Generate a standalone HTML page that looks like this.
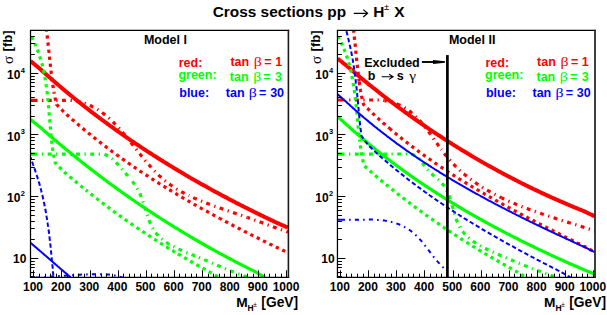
<!DOCTYPE html>
<html><head><meta charset="utf-8"><style>
html,body{margin:0;padding:0;background:#fff;width:607px;height:315px;overflow:hidden}
svg{position:absolute;left:0;top:0;display:block}
</style></head><body>
<svg width="607" height="315" viewBox="0 0 607 315">
<defs>
<clipPath id="cL"><rect x="30.5" y="30.5" width="257.5" height="246.8"/></clipPath>
<clipPath id="cR"><rect x="337.6" y="30.5" width="257.2" height="246.8"/></clipPath>
</defs>
<rect width="607" height="315" fill="#fff"/>
<path d="M30.5,61.0 L31.3,61.6 L32.0,62.3 L32.8,62.9 L33.6,63.6 L34.4,64.2 L35.1,64.8 L35.9,65.5 L36.7,66.1 L37.5,66.8 L38.2,67.4 L39.0,68.0 L39.8,68.7 L40.5,69.3 L41.3,70.0 L42.0,70.7 L42.8,71.4 L43.5,72.0 L44.3,72.7 L45.0,73.4 L45.7,74.0 L46.5,74.7 L47.2,75.4 L48.0,76.0 L48.7,76.7 L49.5,77.4 L50.3,78.0 L51.0,78.7 L51.8,79.4 L52.5,80.0 L53.3,80.7 L54.0,81.3 L54.8,82.0 L55.6,82.7 L56.3,83.3 L57.1,84.0 L57.8,84.6 L58.6,85.3 L59.4,85.9 L60.1,86.6 L60.9,87.2 L61.7,87.9 L62.4,88.5 L63.2,89.2 L64.0,89.8 L64.7,90.4 L65.5,91.1 L66.3,91.7 L67.0,92.4 L67.8,93.0 L68.6,93.7 L69.4,94.3 L70.1,94.9 L70.9,95.6 L71.7,96.2 L72.5,96.8 L73.2,97.5 L74.0,98.1 L74.8,98.7 L75.6,99.4 L76.4,100.0 L77.1,100.6 L77.9,101.2 L78.7,101.9 L79.5,102.5 L80.3,103.1 L81.1,103.7 L81.8,104.4 L82.6,105.0 L83.4,105.6 L84.2,106.2 L85.0,106.9 L85.8,107.5 L86.6,108.1 L87.4,108.7 L88.2,109.3 L89.0,109.9 L89.7,110.5 L90.5,111.2 L91.3,111.8 L92.1,112.4 L92.9,113.0 L93.7,113.6 L94.5,114.2 L95.3,114.8 L96.1,115.4 L96.9,116.0 L97.7,116.6 L98.5,117.2 L99.3,117.8 L100.1,118.4 L100.9,119.0 L101.7,119.6 L102.5,120.2 L103.4,120.8 L104.2,121.4 L105.0,122.0 L105.8,122.6 L106.6,123.2 L107.4,123.8 L108.2,124.4 L109.0,125.0 L109.8,125.6 L110.6,126.1 L111.5,126.7 L112.3,127.3 L113.1,127.9 L113.9,128.5 L114.7,129.1 L115.5,129.7 L116.3,130.2 L117.2,130.8 L118.0,131.4 L118.8,132.0 L119.6,132.6 L120.4,133.1 L121.3,133.7 L122.1,134.3 L122.9,134.9 L123.7,135.4 L124.6,136.0 L125.4,136.6 L126.2,137.1 L127.0,137.7 L127.9,138.3 L128.7,138.9 L129.5,139.4 L130.3,140.0 L131.2,140.6 L132.0,141.1 L132.8,141.7 L133.7,142.2 L134.5,142.8 L135.3,143.4 L136.2,143.9 L137.0,144.5 L137.8,145.0 L138.7,145.6 L139.5,146.2 L140.3,146.7 L141.2,147.3 L142.0,147.8 L142.8,148.4 L143.7,148.9 L144.5,149.5 L145.4,150.0 L146.2,150.6 L147.0,151.1 L147.9,151.7 L148.7,152.2 L149.6,152.8 L150.4,153.3 L151.2,153.8 L152.1,154.4 L152.9,154.9 L153.8,155.5 L154.6,156.0 L155.5,156.5 L156.3,157.1 L157.2,157.6 L158.0,158.2 L158.9,158.7 L159.7,159.2 L160.6,159.8 L161.4,160.3 L162.3,160.8 L163.1,161.4 L164.0,161.9 L164.8,162.4 L165.7,162.9 L166.5,163.5 L167.4,164.0 L168.2,164.5 L169.1,165.1 L169.9,165.6 L170.8,166.1 L171.7,166.6 L172.5,167.1 L173.4,167.7 L174.2,168.2 L175.1,168.7 L176.0,169.2 L176.8,169.7 L177.7,170.3 L178.5,170.8 L179.4,171.3 L180.3,171.8 L181.1,172.3 L182.0,172.8 L182.8,173.3 L183.7,173.8 L184.6,174.4 L185.4,174.9 L186.3,175.4 L187.2,175.9 L188.0,176.4 L188.9,176.9 L189.8,177.4 L190.6,177.9 L191.5,178.4 L192.4,178.9 L193.3,179.4 L194.1,179.9 L195.0,180.4 L195.9,180.9 L196.7,181.4 L197.6,181.9 L198.5,182.4 L199.4,182.9 L200.2,183.4 L201.1,183.9 L202.0,184.4 L202.9,184.9 L203.7,185.3 L204.6,185.8 L205.5,186.3 L206.4,186.8 L207.2,187.3 L208.1,187.8 L209.0,188.3 L209.9,188.8 L210.8,189.2 L211.6,189.7 L212.5,190.2 L213.4,190.7 L214.3,191.2 L215.2,191.7 L216.0,192.1 L216.9,192.6 L217.8,193.1 L218.7,193.6 L219.6,194.0 L220.5,194.5 L221.3,195.0 L222.2,195.5 L223.1,195.9 L224.0,196.4 L224.9,196.9 L225.8,197.3 L226.7,197.8 L227.5,198.3 L228.4,198.8 L229.3,199.2 L230.2,199.7 L231.1,200.2 L232.0,200.6 L232.9,201.1 L233.8,201.5 L234.7,202.0 L235.6,202.5 L236.4,202.9 L237.3,203.4 L238.2,203.8 L239.1,204.3 L240.0,204.8 L240.9,205.2 L241.8,205.7 L242.7,206.1 L243.6,206.6 L244.5,207.0 L245.4,207.5 L246.3,207.9 L247.2,208.4 L248.1,208.8 L249.0,209.3 L249.9,209.7 L250.8,210.2 L251.7,210.6 L252.6,211.1 L253.5,211.5 L254.4,212.0 L255.3,212.4 L256.2,212.9 L257.1,213.3 L258.0,213.7 L258.9,214.2 L259.8,214.6 L260.7,215.1 L261.6,215.5 L262.5,215.9 L263.4,216.4 L264.3,216.8 L265.2,217.3 L266.1,217.7 L267.0,218.1 L267.9,218.6 L268.8,219.0 L269.7,219.4 L270.6,219.9 L271.5,220.3 L272.4,220.7 L273.3,221.1 L274.2,221.6 L275.1,222.0 L276.0,222.4 L276.9,222.8 L277.9,223.2 L278.8,223.6 L279.7,224.0 L280.6,224.4 L281.5,224.8 L282.5,225.2 L283.4,225.6 L284.3,226.0 L285.2,226.4 L286.2,226.8 L287.1,227.2 L288.0,227.6" stroke="#ff0000" stroke-width="4" fill="none" clip-path="url(#cL)"/>
<path d="M46.3,29.0 L46.4,30.0 L46.6,31.0 L46.7,32.0 L46.8,33.0 L46.9,34.0 L47.0,35.1 L47.2,36.1 L47.3,37.1 L47.4,38.1 L47.5,39.1 L47.6,40.1 L47.7,41.1 L47.8,42.1 L47.9,43.1 L48.1,44.1 L48.2,45.2 L48.3,46.2 L48.4,47.2 L48.5,48.2 L48.6,49.2 L48.7,50.2 L48.9,51.2 L49.0,52.2 L49.1,53.2 L49.2,54.3 L49.3,55.3 L49.4,56.3 L49.5,57.3 L49.6,58.3 L49.7,59.3 L49.8,60.3 L50.0,61.3 L50.1,62.4 L50.2,63.4 L50.3,64.4 L50.4,65.4 L50.5,66.4 L50.6,67.4 L50.7,68.4 L50.9,69.4 L51.0,70.4 L51.1,71.4 L51.2,72.5 L51.3,73.5 L51.5,74.5 L51.6,75.5 L51.7,76.5 L51.8,77.5 L52.0,78.5 L52.1,79.5 L52.2,80.5 L52.4,81.5 L52.5,82.5 L52.6,83.5 L52.8,84.5 L52.9,85.6 L53.1,86.6 L53.2,87.6 L53.4,88.6 L53.5,89.6 L53.7,90.6 L53.9,91.6 L54.0,92.6" stroke="#ff0000" stroke-width="3.2" fill="none" stroke-dasharray="3.3 3.8" stroke-dashoffset="0.62" clip-path="url(#cL)"/>
<path d="M54.0,92.6 L54.2,93.6 L54.4,94.6 L54.6,95.6 L54.8,96.6 L55.0,97.6 L55.2,98.5 L55.4,99.5 L55.6,100.5 L55.8,101.5 L56.0,102.5 L56.3,103.5 L56.5,104.5 L57.2,105.2 L57.9,105.9 L58.6,106.6 L59.3,107.4 L60.0,108.1 L60.7,108.8 L61.4,109.5 L62.1,110.2 L62.8,110.9 L63.6,111.6 L64.3,112.3 L65.0,113.0 L65.7,113.7 L66.5,114.3 L67.2,115.0 L68.0,115.7 L68.7,116.3 L69.5,117.0 L70.2,117.7 L71.0,118.3 L71.7,119.0 L72.5,119.7 L73.2,120.3 L74.0,121.0 L74.8,121.7 L75.5,122.3 L76.3,123.0 L77.0,123.6 L77.8,124.3 L78.6,124.9 L79.3,125.6 L80.1,126.2 L80.9,126.9 L81.6,127.5 L82.4,128.2 L83.2,128.8 L83.9,129.5 L84.7,130.1 L85.5,130.7 L86.3,131.4 L87.0,132.0 L87.8,132.6 L88.6,133.3 L89.4,133.9 L90.2,134.5 L90.9,135.2 L91.7,135.8 L92.5,136.4 L93.3,137.1 L94.1,137.7 L94.9,138.3 L95.6,138.9 L96.4,139.5 L97.2,140.2 L98.0,140.8 L98.8,141.4 L99.6,142.0 L100.4,142.6 L101.2,143.2 L102.0,143.9 L102.8,144.5 L103.6,145.1 L104.4,145.7 L105.2,146.3 L106.0,146.9 L106.8,147.5 L107.6,148.1 L108.4,148.7 L109.2,149.3 L110.0,149.9 L110.8,150.5 L111.6,151.1 L112.4,151.7 L113.2,152.3 L114.0,152.9 L114.8,153.5 L115.6,154.1 L116.4,154.7 L117.2,155.2" stroke="#ff0000" stroke-width="3.2" fill="none" stroke-dasharray="3.3 3.8" stroke-dashoffset="2.13" clip-path="url(#cL)"/>
<path d="M117.2,155.2 L118.1,155.8 L118.9,156.4 L119.7,157.0 L120.5,157.6 L121.3,158.2 L122.1,158.8 L123.0,159.3 L123.8,159.9 L124.6,160.5 L125.4,161.1 L126.2,161.6 L127.1,162.2 L127.9,162.8 L128.7,163.4 L129.5,163.9 L130.4,164.5 L131.2,165.1 L132.0,165.6 L132.8,166.2 L133.7,166.8 L134.5,167.3 L135.3,167.9 L136.2,168.5 L137.0,169.0 L137.8,169.6 L138.7,170.1 L139.5,170.7 L140.3,171.3 L141.2,171.8 L142.0,172.4 L142.8,172.9 L143.7,173.5 L144.5,174.0 L145.3,174.6 L146.2,175.1 L147.0,175.7 L147.9,176.2 L148.7,176.8 L149.6,177.3 L150.4,177.9 L151.2,178.4 L152.1,179.0 L152.9,179.5 L153.8,180.0 L154.6,180.6 L155.5,181.1 L156.3,181.6 L157.2,182.2 L158.0,182.7 L158.9,183.3 L159.7,183.8 L160.6,184.3 L161.4,184.9 L162.3,185.4 L163.1,185.9 L164.0,186.4 L164.8,187.0 L165.7,187.5 L166.6,188.0 L167.4,188.5" stroke="#ff0000" stroke-width="3.2" fill="none" stroke-dasharray="3.3 3.8" stroke-dashoffset="1.03" clip-path="url(#cL)"/>
<path d="M167.4,188.5 L168.3,189.1 L169.1,189.6 L170.0,190.1 L170.8,190.6 L171.7,191.2 L172.6,191.7 L173.4,192.2 L174.3,192.7 L175.1,193.2 L176.0,193.7 L176.9,194.3 L177.7,194.8 L178.6,195.3 L179.5,195.8 L180.3,196.3 L181.2,196.8 L182.1,197.3 L182.9,197.8 L183.8,198.3 L184.7,198.8 L185.5,199.4 L186.4,199.9 L187.3,200.4 L188.1,200.9 L189.0,201.4 L189.9,201.9 L190.8,202.4 L191.6,202.9 L192.5,203.4 L193.4,203.9 L194.2,204.4 L195.1,204.9 L196.0,205.4 L196.9,205.9 L197.7,206.3 L198.6,206.8 L199.5,207.3 L200.4,207.8 L201.3,208.3 L202.1,208.8 L203.0,209.3 L203.9,209.8 L204.8,210.3 L205.6,210.8 L206.5,211.2 L207.4,211.7 L208.3,212.2 L209.2,212.7 L210.1,213.2 L210.9,213.7 L211.8,214.1 L212.7,214.6 L213.6,215.1 L214.5,215.6 L215.4,216.1 L216.2,216.5 L217.1,217.0 L218.0,217.5 L218.9,218.0 L219.8,218.4" stroke="#ff0000" stroke-width="3.2" fill="none" stroke-dasharray="3.3 3.8" stroke-dashoffset="4.92" clip-path="url(#cL)"/>
<path d="M219.8,218.4 L220.7,218.9 L221.6,219.4 L222.4,219.9 L223.3,220.3 L224.2,220.8 L225.1,221.3 L226.0,221.8 L226.9,222.2 L227.8,222.7 L228.7,223.2 L229.5,223.6 L230.4,224.1 L231.3,224.6 L232.2,225.0 L233.1,225.5 L234.0,226.0 L234.9,226.4 L235.8,226.9 L236.7,227.3 L237.6,227.8 L238.5,228.3 L239.4,228.7 L240.2,229.2 L241.1,229.7 L242.0,230.1 L242.9,230.6 L243.8,231.0 L244.7,231.5 L245.6,231.9 L246.5,232.4 L247.4,232.9 L248.3,233.3 L249.2,233.8 L250.1,234.2 L251.0,234.7 L251.9,235.1 L252.8,235.6 L253.7,236.0 L254.6,236.5 L255.5,236.9 L256.4,237.4 L257.3,237.8 L258.2,238.3 L259.1,238.7 L260.0,239.2 L260.9,239.6 L261.7,240.1 L262.6,240.5 L263.5,241.0 L264.4,241.4 L265.3,241.8 L266.2,242.3 L267.1,242.7 L268.0,243.2 L268.9,243.6 L269.8,244.1 L270.7,244.5 L271.6,244.9 L272.5,245.4 L273.4,245.8 L274.3,246.3 L275.2,246.7 L276.1,247.1 L277.0,247.6 L278.0,248.0 L278.9,248.4 L279.8,248.8 L280.7,249.3 L281.6,249.7 L282.5,250.1 L283.4,250.5 L284.3,250.9 L285.3,251.3 L286.2,251.8 L287.1,252.2 L288.0,252.6" stroke="#ff0000" stroke-width="3.2" fill="none" stroke-dasharray="3.3 3.8" stroke-dashoffset="0.98" clip-path="url(#cL)"/>
<path d="M30.5,100.3 L31.5,100.3 L32.5,100.3 L33.5,100.3 L34.6,100.3 L35.6,100.3 L36.6,100.3 L37.6,100.3 L38.6,100.3 L39.6,100.3 L40.7,100.3 L41.7,100.3 L42.7,100.3 L43.7,100.3 L44.7,100.3 L45.7,100.3 L46.7,100.3 L47.8,100.3 L48.8,100.3 L49.8,100.3 L50.8,100.3 L51.8,100.3 L52.8,100.3 L53.8,100.3 L54.9,100.3 L55.9,100.3 L56.9,100.3 L57.9,100.3 L58.9,100.3 L59.9,100.3 L61.0,100.3 L62.0,100.3 L63.0,100.3 L64.0,100.3 L65.1,100.3 L66.2,100.2 L67.3,100.2 L68.4,100.3 L69.5,100.3 L70.5,100.3" stroke="#ff0000" stroke-width="3.2" fill="none" stroke-dasharray="3.9 4.5 1.3 4.5" stroke-dashoffset="11.06" clip-path="url(#cL)"/>
<path d="M70.5,100.3 L71.6,100.4 L72.6,100.5 L73.6,100.6 L74.7,100.7 L75.7,100.8 L76.7,101.0 L77.7,101.2 L78.7,101.4 L79.7,101.7 L80.6,102.0 L81.6,102.2 L82.6,102.5 L83.5,102.8 L84.4,103.2 L85.4,103.5 L86.3,103.9 L87.2,104.2 L88.1,104.6 L89.0,105.0 L89.9,105.4 L90.8,105.8 L91.6,106.2 L92.5,106.7 L93.4,107.1 L94.2,107.6 L95.0,108.1 L95.9,108.5 L96.7,109.0 L97.5,109.5 L98.3,110.0 L99.1,110.6 L99.9,111.1 L100.7,111.7 L101.5,112.2 L102.3,112.8 L103.0,113.3 L103.8,113.9 L104.6,114.5 L105.3,115.1 L106.1,115.7 L106.8,116.3 L107.6,117.0 L108.3,117.6 L109.0,118.2 L109.7,118.9 L110.4,119.6 L111.2,120.2 L111.9,120.9 L112.6,121.6 L113.3,122.3 L114.0,122.9 L114.7,123.6 L115.3,124.3 L116.0,125.1 L116.7,125.8 L117.4,126.5 L118.0,127.2 L118.7,128.0 L119.4,128.7 L120.0,129.4 L120.7,130.2 L121.4,130.9 L122.0,131.7 L122.7,132.4 L123.3,133.2 L124.0,134.0 L124.6,134.7 L125.2,135.5 L125.9,136.3 L126.5,137.1 L127.2,137.8 L127.8,138.6" stroke="#ff0000" stroke-width="3.2" fill="none" stroke-dasharray="3.9 4.5 1.3 4.5" stroke-dashoffset="8.27" clip-path="url(#cL)"/>
<path d="M127.8,138.6 L128.4,139.4 L129.1,140.2 L129.7,141.0 L130.3,141.8 L130.9,142.6 L131.6,143.4 L132.2,144.2 L132.8,145.0 L133.5,145.8 L134.1,146.6 L134.7,147.4 L135.3,148.2 L136.0,149.0 L136.6,149.8 L137.2,150.6 L137.9,151.4 L138.5,152.2 L139.1,153.0 L139.8,153.8 L140.4,154.6 L141.0,155.4 L141.7,156.2 L142.3,156.9 L142.9,157.7 L143.6,158.5 L144.2,159.3 L144.9,160.1 L145.5,160.9 L146.2,161.6 L146.8,162.4 L147.5,163.2 L148.1,164.0 L148.8,164.7 L149.5,165.5 L150.1,166.2 L150.8,167.0 L151.5,167.7 L152.1,168.5 L152.8,169.2 L153.5,169.9 L154.2,170.7 L154.9,171.4 L155.6,172.1 L156.3,172.8 L157.0,173.5 L157.7,174.2 L158.4,174.9 L159.1,175.6 L159.9,176.3 L160.6,176.9 L161.3,177.6 L162.1,178.3 L162.8,178.9 L163.6,179.6 L164.3,180.2 L165.1,180.8 L165.8,181.4 L166.6,182.0 L167.4,182.7 L168.2,183.2 L169.0,183.8 L169.8,184.4 L170.6,185.0 L171.4,185.5 L172.2,186.1 L173.0,186.7 L173.8,187.2 L174.7,187.7 L175.5,188.3 L176.3,188.8 L177.2,189.3 L178.0,189.8 L178.9,190.3 L179.8,190.8 L180.6,191.3 L181.5,191.8 L182.4,192.3 L183.2,192.7 L184.1,193.2 L185.0,193.7 L185.9,194.1 L186.8,194.6 L187.7,195.0 L188.6,195.4" stroke="#ff0000" stroke-width="3.2" fill="none" stroke-dasharray="3.9 4.5 1.3 4.5" stroke-dashoffset="9.25" clip-path="url(#cL)"/>
<path d="M188.6,195.4 L189.5,195.9 L190.4,196.3 L191.3,196.7 L192.2,197.2 L193.1,197.6 L194.0,198.0 L194.9,198.4 L195.9,198.8 L196.8,199.2 L197.7,199.6 L198.6,200.0 L199.6,200.4 L200.5,200.8 L201.4,201.1 L202.4,201.5 L203.3,201.9 L204.3,202.3 L205.2,202.6 L206.2,203.0 L207.1,203.4 L208.1,203.7 L209.0,204.1 L210.0,204.4 L210.9,204.8 L211.9,205.1 L212.8,205.5 L213.8,205.8 L214.8,206.2 L215.7,206.5 L216.7,206.9 L217.6,207.2 L218.6,207.6 L219.6,207.9 L220.5,208.2 L221.5,208.6 L222.5,208.9 L223.4,209.2 L224.4,209.6 L225.3,209.9 L226.3,210.2 L227.3,210.6 L228.2,210.9 L229.2,211.2 L230.2,211.6 L231.1,211.9 L232.1,212.2 L233.1,212.6 L234.0,212.9 L235.0,213.2 L235.9,213.6 L236.9,213.9 L237.9,214.2 L238.8,214.5 L239.8,214.9 L240.7,215.2 L241.7,215.5 L242.7,215.9 L243.6,216.2 L244.6,216.5 L245.5,216.9 L246.5,217.2 L247.5,217.5" stroke="#ff0000" stroke-width="3.2" fill="none" stroke-dasharray="3.9 4.5 1.3 4.5" stroke-dashoffset="9.08" clip-path="url(#cL)"/>
<path d="M247.5,217.5 L248.4,217.8 L249.4,218.2 L250.3,218.5 L251.3,218.8 L252.2,219.2 L253.2,219.5 L254.1,219.8 L255.1,220.2 L256.0,220.5 L257.0,220.9 L257.9,221.2 L258.9,221.5 L259.8,221.9 L260.8,222.2 L261.7,222.5 L262.6,222.9 L263.6,223.2 L264.5,223.6 L265.5,223.9 L266.4,224.3 L267.3,224.6 L268.3,225.0 L269.2,225.3 L270.1,225.7 L271.1,226.0 L272.0,226.4 L272.9,226.7 L273.8,227.1 L274.8,227.4 L275.7,227.8 L276.6,228.2 L277.6,228.5 L278.5,228.8 L279.5,229.1 L280.4,229.4 L281.4,229.7 L282.3,230.0 L283.3,230.4 L284.2,230.7 L285.2,231.0 L286.1,231.3 L287.1,231.7 L288.0,232.0" stroke="#ff0000" stroke-width="3.2" fill="none" stroke-dasharray="3.9 4.5 1.3 4.5" stroke-dashoffset="1.30" clip-path="url(#cL)"/>
<path d="M30.50,100.30h3.6" stroke="#ff0000" stroke-width="3.2" clip-path="url(#cL)"/>
<path d="M30.5,119.5 L31.3,120.1 L32.1,120.8 L32.8,121.4 L33.6,122.0 L34.4,122.7 L35.2,123.3 L36.0,123.9 L36.8,124.5 L37.5,125.2 L38.3,125.8 L39.1,126.4 L39.9,127.0 L40.7,127.7 L41.4,128.4 L42.2,129.0 L42.9,129.7 L43.7,130.4 L44.4,131.0 L45.2,131.7 L46.0,132.4 L46.7,133.0 L47.5,133.7 L48.2,134.3 L49.0,135.0 L49.8,135.6 L50.5,136.3 L51.3,137.0 L52.1,137.6 L52.8,138.3 L53.6,138.9 L54.4,139.6 L55.1,140.2 L55.9,140.9 L56.7,141.5 L57.4,142.2 L58.2,142.8 L59.0,143.5 L59.8,144.1 L60.5,144.8 L61.3,145.4 L62.1,146.1 L62.8,146.7 L63.6,147.4 L64.4,148.0 L65.2,148.6 L65.9,149.3 L66.7,149.9 L67.5,150.6 L68.3,151.2 L69.1,151.8 L69.8,152.5 L70.6,153.1 L71.4,153.7 L72.2,154.4 L73.0,155.0 L73.7,155.6 L74.5,156.3 L75.3,156.9 L76.1,157.5 L76.9,158.2 L77.7,158.8 L78.4,159.4 L79.2,160.1 L80.0,160.7 L80.8,161.3 L81.6,161.9 L82.4,162.6 L83.2,163.2 L84.0,163.8 L84.7,164.4 L85.5,165.0 L86.3,165.7 L87.1,166.3 L87.9,166.9 L88.7,167.5 L89.5,168.1 L90.3,168.7 L91.1,169.4 L91.9,170.0 L92.7,170.6 L93.5,171.2 L94.3,171.8 L95.1,172.4 L95.9,173.0 L96.7,173.6 L97.5,174.3 L98.3,174.9 L99.1,175.5 L99.9,176.1 L100.7,176.7 L101.5,177.3 L102.3,177.9 L103.1,178.5 L103.9,179.1 L104.7,179.7 L105.5,180.3 L106.3,180.9 L107.1,181.5 L107.9,182.1 L108.7,182.7 L109.5,183.3 L110.4,183.9 L111.2,184.5 L112.0,185.1 L112.8,185.6 L113.6,186.2 L114.4,186.8 L115.2,187.4 L116.0,188.0 L116.9,188.6 L117.7,189.2 L118.5,189.8 L119.3,190.4 L120.1,190.9 L120.9,191.5 L121.8,192.1 L122.6,192.7 L123.4,193.3 L124.2,193.9 L125.0,194.4 L125.8,195.0 L126.7,195.6 L127.5,196.2 L128.3,196.7 L129.1,197.3 L130.0,197.9 L130.8,198.5 L131.6,199.0 L132.4,199.6 L133.3,200.2 L134.1,200.8 L134.9,201.3 L135.7,201.9 L136.6,202.5 L137.4,203.0 L138.2,203.6 L139.1,204.2 L139.9,204.7 L140.7,205.3 L141.6,205.8 L142.4,206.4 L143.2,207.0 L144.0,207.5 L144.9,208.1 L145.7,208.6 L146.6,209.2 L147.4,209.8 L148.2,210.3 L149.1,210.9 L149.9,211.4 L150.7,212.0 L151.6,212.5 L152.4,213.1 L153.3,213.6 L154.1,214.2 L154.9,214.7 L155.8,215.3 L156.6,215.8 L157.5,216.4 L158.3,216.9 L159.2,217.5 L160.0,218.0 L160.8,218.5 L161.7,219.1 L162.5,219.6 L163.4,220.2 L164.2,220.7 L165.1,221.2 L165.9,221.8 L166.8,222.3 L167.6,222.8 L168.5,223.4 L169.3,223.9 L170.2,224.4 L171.0,225.0 L171.9,225.5 L172.7,226.0 L173.6,226.6 L174.4,227.1 L175.3,227.6 L176.1,228.1 L177.0,228.7 L177.9,229.2 L178.7,229.7 L179.6,230.2 L180.4,230.8 L181.3,231.3 L182.2,231.8 L183.0,232.3 L183.9,232.8 L184.7,233.4 L185.6,233.9 L186.5,234.4 L187.3,234.9 L188.2,235.4 L189.0,235.9 L189.9,236.4 L190.8,237.0 L191.6,237.5 L192.5,238.0 L193.4,238.5 L194.2,239.0 L195.1,239.5 L196.0,240.0 L196.8,240.5 L197.7,241.0 L198.6,241.5 L199.5,242.0 L200.3,242.5 L201.2,243.0 L202.1,243.5 L202.9,244.0 L203.8,244.5 L204.7,245.0 L205.6,245.5 L206.4,246.0 L207.3,246.5 L208.2,247.0 L209.1,247.5 L210.0,248.0 L210.8,248.5 L211.7,248.9 L212.6,249.4 L213.5,249.9 L214.3,250.4 L215.2,250.9 L216.1,251.4 L217.0,251.9 L217.9,252.3 L218.8,252.8 L219.6,253.3 L220.5,253.8 L221.4,254.3 L222.3,254.7 L223.2,255.2 L224.1,255.7 L225.0,256.2 L225.8,256.6 L226.7,257.1 L227.6,257.6 L228.5,258.1 L229.4,258.5 L230.3,259.0 L231.2,259.5 L232.1,259.9 L233.0,260.4 L233.9,260.9 L234.7,261.3 L235.6,261.8 L236.5,262.3 L237.4,262.7 L238.3,263.2 L239.2,263.6 L240.1,264.1 L241.0,264.6 L241.9,265.0 L242.8,265.5 L243.7,265.9 L244.6,266.4 L245.5,266.8 L246.4,267.3 L247.3,267.7 L248.2,268.2 L249.1,268.6 L250.0,269.1 L250.9,269.5 L251.8,270.0 L252.7,270.4 L253.6,270.9 L254.5,271.3 L255.4,271.8 L256.3,272.3 L257.1,272.8 L258.0,273.3 L258.9,273.8 L259.8,274.3 L260.6,274.8 L261.5,275.3 L262.4,275.8 L263.3,276.3 L264.1,276.8 L265.0,277.3" stroke="#00ff00" stroke-width="3.2" fill="none" clip-path="url(#cL)"/>
<path d="M30.5,34.5 L31.0,35.4 L31.5,36.3 L31.9,37.2 L32.4,38.2 L32.8,39.1 L33.3,40.0 L33.7,40.9 L34.1,41.8 L34.5,42.8 L34.9,43.7 L35.3,44.6 L35.7,45.6 L36.1,46.5 L36.5,47.5 L36.9,48.4 L37.2,49.3 L37.6,50.3 L37.9,51.2 L38.3,52.2 L38.6,53.1 L39.0,54.1 L39.3,55.0 L39.6,56.0 L39.9,57.0 L40.2,57.9 L40.5,58.9 L40.8,59.9 L41.1,60.8 L41.4,61.8 L41.6,62.8 L41.9,63.7 L42.2,64.7 L42.4,65.7 L42.6,66.7 L42.9,67.6 L43.1,68.6 L43.3,69.6 L43.6,70.6 L43.8,71.6 L44.0,72.6 L44.2,73.5 L44.4,74.5 L44.6,75.5 L44.8,76.5 L44.9,77.5 L45.1,78.5 L45.3,79.5 L45.5,80.5 L45.6,81.5 L45.8,82.5 L45.9,83.5 L46.1,84.5 L46.2,85.5" stroke="#00ff00" stroke-width="3.2" fill="none" stroke-dasharray="3.3 3.8" stroke-dashoffset="4.62" clip-path="url(#cL)"/>
<path d="M46.2,85.5 L46.4,86.5 L46.5,87.5 L46.7,88.5 L46.8,89.5 L46.9,90.5 L47.0,91.5 L47.2,92.5 L47.3,93.5 L47.4,94.5 L47.5,95.5 L47.6,96.6 L47.7,97.6 L47.8,98.6 L47.9,99.6 L48.0,100.6 L48.1,101.6 L48.2,102.6 L48.3,103.6 L48.4,104.7 L48.5,105.7 L48.6,106.7 L48.7,107.7 L48.8,108.7 L48.9,109.7 L49.0,110.7 L49.1,111.8 L49.1,112.8 L49.2,113.8 L49.3,114.8 L49.4,115.8 L49.5,116.8 L49.6,117.9 L49.6,118.9 L49.7,119.9 L49.8,120.9 L49.9,121.9 L50.0,122.9 L50.1,123.9 L50.1,125.0 L50.2,126.0 L50.3,127.0 L50.4,128.0 L50.5,129.0 L50.6,130.0 L50.7,131.0 L50.8,132.1 L50.9,133.1 L50.9,134.1 L51.0,135.1 L51.1,136.1 L51.2,137.1 L51.3,138.1 L51.5,139.1 L51.6,140.1 L51.7,141.1 L51.8,142.1 L51.9,143.2 L52.0,144.2 L52.1,145.2 L52.3,146.2 L52.4,147.2 L52.5,148.2 L52.7,149.2 L52.8,150.2 L52.9,151.2 L53.1,152.1 L53.3,153.1 L53.5,154.1 L53.7,155.1 L53.8,156.1 L54.0,157.1 L54.2,158.1 L54.4,159.1 L54.6,160.1 L54.9,161.0 L55.1,162.0 L55.3,163.0 L56.0,163.7 L56.7,164.4 L57.4,165.1 L58.1,165.9 L58.8,166.6 L59.5,167.3 L60.2,168.0 L60.9,168.7 L61.6,169.4 L62.3,170.1 L63.0,170.8 L63.7,171.5 L64.4,172.2 L65.2,172.9 L66.0,173.5 L66.7,174.2 L67.5,174.8 L68.3,175.5 L69.0,176.1 L69.8,176.8 L70.6,177.4 L71.3,178.1 L72.1,178.7 L72.9,179.4 L73.6,180.0 L74.4,180.7 L75.2,181.3 L76.0,182.0 L76.7,182.6 L77.5,183.2 L78.3,183.9 L79.1,184.5 L79.8,185.2 L80.6,185.8 L81.4,186.4 L82.2,187.1 L82.9,187.7 L83.7,188.3 L84.5,189.0 L85.3,189.6 L86.1,190.2 L86.9,190.9" stroke="#00ff00" stroke-width="3.2" fill="none" stroke-dasharray="3.3 3.8" stroke-dashoffset="1.52" clip-path="url(#cL)"/>
<path d="M86.1,190.2 L86.9,190.9 L87.7,191.5 L88.4,192.1 L89.2,192.7 L90.0,193.4 L90.8,194.0 L91.6,194.6 L92.4,195.2 L93.2,195.8 L94.0,196.5 L94.8,197.1 L95.6,197.7 L96.4,198.3 L97.1,198.9 L97.9,199.6 L98.7,200.2 L99.5,200.8 L100.3,201.4 L101.1,202.0 L101.9,202.6 L102.7,203.2 L103.5,203.8 L104.3,204.4 L105.2,205.0 L106.0,205.6 L106.8,206.2 L107.6,206.9 L108.4,207.5 L109.2,208.1 L110.0,208.7 L110.8,209.3 L111.6,209.9 L112.4,210.4 L113.2,211.0 L114.0,211.6 L114.9,212.2 L115.7,212.8 L116.5,213.4 L117.3,214.0 L118.1,214.6 L118.9,215.2 L119.8,215.8 L120.6,216.4 L121.4,216.9 L122.2,217.5 L123.0,218.1 L123.9,218.7 L124.7,219.3 L125.5,219.9 L126.3,220.4 L127.1,221.0 L128.0,221.6 L128.8,222.2 L129.6,222.7 L130.5,223.3 L131.3,223.9 L132.1,224.5 L132.9,225.0 L133.8,225.6 L134.6,226.2 L135.4,226.7 L136.3,227.3 L137.1,227.9 L137.9,228.4 L138.8,229.0 L139.6,229.6 L140.4,230.1 L141.3,230.7 L142.1,231.2 L142.9,231.8 L143.8,232.4 L144.6,232.9 L145.5,233.5 L146.3,234.0 L147.1,234.6 L148.0,235.1 L148.8,235.7 L149.7,236.2 L150.5,236.8 L151.4,237.3 L152.2,237.9 L153.1,238.4 L153.9,239.0 L154.8,239.5 L155.6,240.1 L156.4,240.6 L157.3,241.2 L158.1,241.7 L159.0,242.2 L159.9,242.8 L160.7,243.3 L161.6,243.8 L162.4,244.4 L163.3,244.9 L164.1,245.5 L165.0,246.0 L165.8,246.5 L166.7,247.0 L167.5,247.6 L168.4,248.1 L169.3,248.6 L170.1,249.2 L171.0,249.7 L171.8,250.2 L172.7,250.7 L173.6,251.3 L174.4,251.8 L175.3,252.3 L176.1,252.8" stroke="#00ff00" stroke-width="3.2" fill="none" stroke-dasharray="3.3 3.8" stroke-dashoffset="1.22" clip-path="url(#cL)"/>
<path d="M176.1,252.8 L177.0,253.3 L177.9,253.9 L178.7,254.4 L179.6,254.9 L180.5,255.4 L181.3,255.9 L182.2,256.4 L183.1,256.9 L183.9,257.4 L184.8,258.0 L185.7,258.5 L186.6,259.0 L187.4,259.5 L188.3,260.0 L189.2,260.5 L190.0,261.0 L190.9,261.5 L191.8,262.0 L192.7,262.5 L193.5,263.0 L194.4,263.5 L195.3,264.0 L196.2,264.5 L197.0,265.0 L197.9,265.5 L198.8,266.0 L199.7,266.5 L200.6,267.0 L201.4,267.4 L202.3,267.9 L203.2,268.4 L204.1,268.9 L205.0,269.4 L205.8,269.9 L206.7,270.4 L207.6,270.9 L208.5,271.3 L209.4,271.8 L210.2,272.3 L211.1,272.8 L212.0,273.3 L212.9,273.8 L213.7,274.3 L214.6,274.8 L215.5,275.3 L216.4,275.8 L217.2,276.3 L218.1,276.8 L219.0,277.3" stroke="#00ff00" stroke-width="3.2" fill="none" stroke-dasharray="3.3 3.8" stroke-dashoffset="4.92" clip-path="url(#cL)"/>
<path d="M30.5,154.2 L31.5,154.2 L32.5,154.2 L33.5,154.2 L34.5,154.2 L35.5,154.2 L36.5,154.2 L37.5,154.2 L38.6,154.2 L39.6,154.2 L40.6,154.2 L41.6,154.2 L42.6,154.2 L43.6,154.2 L44.6,154.2 L45.6,154.2 L46.6,154.2 L47.6,154.2 L48.6,154.2 L49.6,154.2 L50.6,154.2 L51.6,154.2 L52.7,154.2 L53.7,154.2 L54.7,154.2 L55.7,154.2 L56.7,154.2 L57.7,154.2 L58.7,154.2 L59.7,154.2 L60.7,154.2 L61.7,154.2 L62.7,154.2 L63.7,154.2 L64.7,154.2 L65.7,154.2 L66.7,154.2 L67.8,154.2 L68.8,154.2 L69.8,154.2 L70.8,154.2 L71.8,154.2 L72.8,154.2 L73.8,154.2 L74.8,154.2 L75.8,154.2 L76.8,154.2 L77.8,154.2 L78.8,154.2 L79.8,154.2 L80.8,154.2 L81.8,154.2 L82.9,154.2 L83.9,154.2 L84.9,154.2 L85.9,154.2 L86.9,154.2 L87.9,154.2 L88.9,154.2 L89.9,154.2 L90.9,154.2 L91.9,154.2 L92.9,154.2 L93.9,154.2 L94.9,154.2 L95.9,154.2 L97.0,154.2 L98.0,154.2 L99.0,154.2 L100.0,154.2 L101.0,154.2 L102.0,154.2 L103.0,154.2 L104.0,154.2 L104.9,154.5 L105.8,154.9 L106.7,155.3 L107.5,155.7 L108.3,156.1 L109.1,156.6 L109.9,157.1 L110.7,157.6 L111.5,158.2 L112.3,158.8 L113.0,159.3 L113.7,159.9 L114.4,160.6 L115.1,161.4 L115.8,162.1 L116.4,162.8 L117.1,163.6 L117.7,164.3 L118.4,165.1 L119.0,165.8 L119.7,166.6 L120.3,167.4 L121.0,168.1 L121.7,168.9 L122.3,169.7 L123.0,170.4 L123.7,171.2 L124.4,172.0 L125.0,172.7 L125.7,173.5 L126.4,174.3 L127.1,175.0 L127.8,175.8 L128.4,176.6 L129.1,177.4 L129.7,178.1" stroke="#00ff00" stroke-width="3.2" fill="none" stroke-dasharray="3.9 4.5 1.3 4.5" stroke-dashoffset="11.22" clip-path="url(#cL)"/>
<path d="M129.7,178.1 L130.4,178.9 L131.0,179.7 L131.7,180.5 L132.3,181.3 L132.9,182.1 L133.5,182.9 L134.1,183.8 L134.7,184.6 L135.3,185.4 L135.8,186.3 L136.4,187.1 L136.9,188.0 L137.4,188.8 L137.9,189.7 L138.4,190.6 L138.8,191.5 L139.3,192.4 L139.7,193.3 L140.1,194.2 L140.5,195.2 L140.9,196.1 L141.3,197.1 L141.6,198.0 L142.0,199.0 L142.3,199.9 L142.7,200.9 L143.0,201.8 L143.3,202.8 L143.6,203.8 L144.0,204.7 L144.3,205.7 L144.6,206.7 L144.9,207.7 L145.2,208.6 L145.5,209.6 L145.8,210.6 L146.1,211.5 L146.4,212.5 L146.7,213.4 L147.0,214.4 L147.3,215.3 L147.6,216.3 L147.9,217.2 L148.2,218.2 L148.6,219.1 L148.9,220.0 L149.3,220.9 L149.6,221.8 L150.0,222.7 L150.4,223.6 L150.8,224.5 L151.2,225.4 L151.6,226.2 L152.0,227.1 L152.5,227.9 L152.9,228.7 L153.4,229.5 L153.9,230.3 L154.4,231.1 L155.0,231.8 L155.5,232.6 L156.1,233.3 L156.7,234.0 L157.3,234.7 L158.0,235.4 L158.6,236.1 L159.3,236.8 L160.0,237.4 L160.7,238.1 L161.4,238.7 L162.2,239.3 L162.9,239.9 L163.7,240.5 L164.5,241.1 L165.3,241.6 L166.1,242.2 L166.9,242.7 L167.7,243.3 L168.6,243.8 L169.4,244.3 L170.3,244.8 L171.2,245.3 L172.1,245.8 L173.0,246.3 L173.9,246.7 L174.8,247.2 L175.7,247.7 L176.6,248.1 L177.5,248.6 L178.5,249.0 L179.4,249.4 L180.4,249.9 L181.3,250.3 L182.3,250.7 L183.3,251.1 L184.2,251.5 L185.2,252.0 L186.2,252.4 L187.2,252.8 L188.1,253.1 L189.1,253.5 L190.1,253.9 L191.1,254.3 L192.0,254.7 L193.0,255.1 L194.0,255.5 L194.9,255.9 L195.9,256.3 L196.9,256.6 L197.8,257.0 L198.8,257.4 L199.7,257.8" stroke="#00ff00" stroke-width="3.2" fill="none" stroke-dasharray="3.9 4.5 1.3 4.5" stroke-dashoffset="10.03" clip-path="url(#cL)"/>
<path d="M198.8,257.4 L199.7,257.8 L200.7,258.2 L201.6,258.6 L202.6,259.0 L203.5,259.3 L204.4,259.7 L205.4,260.1 L206.3,260.5 L207.2,260.9 L208.1,261.3 L209.0,261.7 L209.9,262.1 L210.9,262.5 L211.8,262.9 L212.7,263.3 L213.6,263.7 L214.5,264.0 L215.4,264.4 L216.3,264.8 L217.2,265.2 L218.1,265.6 L219.0,266.0 L219.9,266.4 L220.8,266.8 L221.7,267.2 L222.6,267.5 L223.5,267.9 L224.4,268.3 L225.3,268.7 L226.2,269.1 L227.1,269.4 L228.0,269.8 L228.9,270.2 L229.9,270.5 L230.8,270.9 L231.7,271.3 L232.7,271.6 L233.6,272.0 L234.5,272.3 L235.5,272.7 L236.4,273.1 L237.4,273.4 L238.3,273.8 L239.2,274.2 L240.2,274.5 L241.1,274.9 L242.1,275.2 L243.1,275.6 L244.0,275.9 L245.0,276.3 L246.0,276.6 L247.0,277.0 L248.0,277.3" stroke="#00ff00" stroke-width="3.2" fill="none" stroke-dasharray="3.9 4.5 1.3 4.5" stroke-dashoffset="8.42" clip-path="url(#cL)"/>
<path d="M30.50,154.20h3.6" stroke="#00ff00" stroke-width="3.2" clip-path="url(#cL)"/>
<path d="M30.5,242.7 L31.3,243.4 L32.0,244.0 L32.8,244.7 L33.6,245.4 L34.3,246.0 L35.1,246.7 L35.9,247.4 L36.7,248.0 L37.4,248.7 L38.2,249.4 L39.0,250.0 L39.7,250.7 L40.5,251.3 L41.3,252.0 L42.0,252.7 L42.8,253.3 L43.6,254.0 L44.3,254.7 L45.1,255.3 L45.9,256.0 L46.7,256.7 L47.4,257.3 L48.2,258.0 L49.0,258.7 L49.7,259.3 L50.5,260.0 L51.3,260.7 L52.0,261.3 L52.8,262.0 L53.6,262.7 L54.3,263.3 L55.1,264.0 L55.9,264.7 L56.7,265.3 L57.4,266.0 L58.2,266.7 L59.0,267.3 L59.7,268.0 L60.5,268.7 L61.3,269.3 L62.0,270.0 L62.8,270.6 L63.6,271.3 L64.3,272.0 L65.1,272.6 L65.9,273.3 L66.7,274.0 L67.4,274.6 L68.2,275.3 L69.0,276.0 L69.7,276.6 L70.5,277.3" stroke="#0000ff" stroke-width="2" fill="none" clip-path="url(#cL)"/>
<path d="M30.5,157.5 L30.9,158.4 L31.2,159.4 L31.6,160.4 L32.0,161.3 L32.3,162.3 L32.7,163.2 L33.0,164.2 L33.3,165.1 L33.7,166.1 L34.0,167.0 L34.3,168.0 L34.6,169.0 L35.0,169.9 L35.3,170.9 L35.6,171.8 L36.0,172.8 L36.3,173.8 L36.6,174.7 L36.9,175.7 L37.2,176.6 L37.5,177.6 L37.8,178.6 L38.1,179.5 L38.4,180.5 L38.7,181.5 L39.0,182.4 L39.3,183.4 L39.6,184.4 L39.8,185.4 L40.1,186.3 L40.4,187.3 L40.6,188.3 L40.9,189.3 L41.1,190.2 L41.4,191.2 L41.6,192.2 L41.9,193.2 L42.1,194.2 L42.3,195.1 L42.6,196.1 L42.8,197.1 L43.0,198.1 L43.2,199.1 L43.5,200.1 L43.7,201.1 L43.9,202.0 L44.1,203.0 L44.3,204.0 L44.5,205.0 L44.7,206.0 L44.9,207.0 L45.1,208.0 L45.3,209.0 L45.4,210.0 L45.6,211.0 L45.8,212.0 L46.0,212.9 L46.1,213.9 L46.3,214.9 L46.5,215.9 L46.6,216.9 L46.8,217.9 L47.0,218.9 L47.1,219.9 L47.3,220.9 L47.4,221.9 L47.6,222.9 L47.7,223.9 L47.9,224.9 L48.0,225.9 L48.2,226.9 L48.3,227.9 L48.4,228.9 L48.6,229.9 L48.7,230.9 L48.8,232.0 L49.0,233.0 L49.1,234.0 L49.2,235.0 L49.3,236.0 L49.5,237.0 L49.6,238.0 L49.7,239.0 L49.8,240.0 L49.9,241.0 L50.0,242.0 L50.2,243.0 L50.3,244.0 L50.4,245.0 L50.5,246.0 L50.6,247.0 L50.7,248.1 L50.8,249.1 L50.9,250.1 L51.0,251.1 L51.1,252.1 L51.2,253.1 L51.3,254.1 L51.4,255.1 L51.5,256.1 L51.6,257.1 L51.7,258.1 L51.8,259.2 L51.9,260.2 L52.0,261.2 L52.1,262.2 L52.2,263.2 L52.3,264.2 L52.4,265.2 L52.5,266.2 L52.6,267.2 L52.7,268.2 L52.7,269.2 L52.8,270.2 L52.9,271.3 L53.0,272.3 L53.1,273.3 L53.2,274.3 L53.3,275.3 L53.4,276.3 L53.5,277.3" stroke="#0000ff" stroke-width="2" fill="none" stroke-dasharray="4.4 2.6" stroke-dashoffset="2.55" clip-path="url(#cL)"/>
<path d="M36.0,277.5 L37.0,277.5 L38.0,277.4 L39.0,277.4 L40.0,277.3 L41.0,277.2 L42.0,277.2 L43.0,277.1 L44.0,277.0 L45.0,276.9 L46.0,276.9 L47.0,276.8 L48.0,276.7 L49.0,276.6 L50.0,276.6 L51.1,276.5 L52.1,276.5 L53.1,276.4 L54.1,276.4 L55.1,276.3 L56.1,276.3 L57.1,276.2 L58.2,276.1 L59.2,276.1 L60.2,276.0 L61.2,275.9 L62.2,275.9 L63.3,275.8 L64.3,275.7 L65.3,275.7 L66.3,275.6 L67.3,275.5 L68.4,275.4 L69.4,275.4 L70.4,275.3 L71.4,275.2 L72.5,275.2 L73.5,275.1 L74.5,275.0 L75.5,275.0 L76.6,274.9 L77.6,274.8 L78.6,274.8 L79.6,274.7 L80.6,274.7 L81.7,274.6 L82.7,274.6 L83.7,274.5 L84.7,274.5 L85.8,274.4 L86.8,274.4 L87.8,274.3 L88.8,274.3 L89.8,274.3 L90.9,274.2 L91.9,274.2 L92.9,274.2 L93.9,274.2 L94.9,274.2 L95.9,274.2 L96.9,274.2 L98.0,274.2 L99.0,274.2 L100.0,274.2 L101.0,274.2 L102.0,274.3 L103.0,274.3 L104.0,274.3 L105.0,274.4 L106.0,274.4 L107.0,274.5 L108.0,274.5 L109.0,274.6 L110.0,274.7 L111.0,274.8 L112.0,275.0 L112.9,275.2 L113.9,275.4 L114.9,275.6 L115.8,275.8 L116.8,276.0 L117.7,276.2 L118.7,276.5 L119.6,276.7 L120.6,277.0 L121.6,277.2 L122.5,277.5" stroke="#0000ff" stroke-width="2" fill="none" stroke-dasharray="4.1 4.15 1.6 4.15" clip-path="url(#cL)"/>
<path d="M337.7,58.6 L338.5,59.2 L339.3,59.9 L340.0,60.5 L340.8,61.1 L341.6,61.8 L342.4,62.4 L343.1,63.0 L343.9,63.6 L344.7,64.3 L345.5,64.9 L346.3,65.5 L347.1,66.1 L347.8,66.8 L348.6,67.4 L349.4,68.1 L350.1,68.8 L350.9,69.4 L351.7,70.1 L352.4,70.7 L353.2,71.4 L354.0,72.0 L354.7,72.7 L355.5,73.3 L356.3,74.0 L357.1,74.6 L357.8,75.3 L358.6,75.9 L359.4,76.6 L360.2,77.2 L360.9,77.9 L361.7,78.5 L362.5,79.1 L363.3,79.8 L364.0,80.4 L364.8,81.1 L365.6,81.7 L366.4,82.3 L367.2,83.0 L367.9,83.6 L368.7,84.2 L369.5,84.9 L370.3,85.5 L371.1,86.1 L371.9,86.8 L372.6,87.4 L373.4,88.0 L374.2,88.6 L375.0,89.3 L375.8,89.9 L376.6,90.5 L377.4,91.1 L378.2,91.8 L379.0,92.4 L379.7,93.0 L380.5,93.6 L381.3,94.3 L382.1,94.9 L382.9,95.5 L383.7,96.1 L384.5,96.7 L385.3,97.3 L386.1,97.9 L386.9,98.6 L387.7,99.2 L388.5,99.8 L389.3,100.4 L390.1,101.0 L390.9,101.6 L391.7,102.2 L392.5,102.8 L393.3,103.4 L394.1,104.0 L394.9,104.6 L395.7,105.2 L396.5,105.8 L397.3,106.4 L398.1,107.0 L398.9,107.6 L399.8,108.2 L400.6,108.8 L401.4,109.4 L402.2,110.0 L403.0,110.6 L403.8,111.2 L404.6,111.8 L405.4,112.4 L406.2,113.0 L407.1,113.6 L407.9,114.1 L408.7,114.7 L409.5,115.3 L410.3,115.9 L411.1,116.5 L411.9,117.1 L412.8,117.6 L413.6,118.2 L414.4,118.8 L415.2,119.4 L416.0,120.0 L416.9,120.5 L417.7,121.1 L418.5,121.7 L419.3,122.3 L420.2,122.8 L421.0,123.4 L421.8,124.0 L422.6,124.5 L423.5,125.1 L424.3,125.7 L425.1,126.3 L425.9,126.8 L426.8,127.4 L427.6,127.9 L428.4,128.5 L429.3,129.1 L430.1,129.6 L430.9,130.2 L431.8,130.8 L432.6,131.3 L433.4,131.9 L434.3,132.4 L435.1,133.0 L435.9,133.5 L436.8,134.1 L437.6,134.6 L438.4,135.2 L439.3,135.7 L440.1,136.3 L441.0,136.8 L441.8,137.4 L442.6,137.9 L443.5,138.5 L444.3,139.0 L445.2,139.6 L446.0,140.1 L446.8,140.6 L447.7,141.2 L448.5,141.7 L449.4,142.3 L450.2,142.8 L451.1,143.3 L451.9,143.9 L452.8,144.4 L453.6,144.9 L454.5,145.5 L455.3,146.0 L456.2,146.5 L457.0,147.0 L457.9,147.6 L458.7,148.1 L459.6,148.6 L460.4,149.1 L461.3,149.7 L462.1,150.2 L463.0,150.7 L463.9,151.2 L464.7,151.8 L465.6,152.3 L466.4,152.8 L467.3,153.3 L468.1,153.8 L469.0,154.3 L469.9,154.8 L470.7,155.4 L471.6,155.9 L472.5,156.4 L473.3,156.9 L474.2,157.4 L475.0,157.9 L475.9,158.4 L476.8,158.9 L477.6,159.4 L478.5,159.9 L479.4,160.4 L480.2,160.9 L481.1,161.4 L482.0,161.9 L482.9,162.4 L483.7,162.9 L484.6,163.4 L485.5,163.9 L486.3,164.4 L487.2,164.9 L488.1,165.4 L489.0,165.9 L489.8,166.4 L490.7,166.8 L491.6,167.3 L492.5,167.8 L493.3,168.3 L494.2,168.8 L495.1,169.3 L496.0,169.7 L496.9,170.2 L497.7,170.7 L498.6,171.2 L499.5,171.7 L500.4,172.1 L501.3,172.6 L502.1,173.1 L503.0,173.6 L503.9,174.0 L504.8,174.5 L505.7,175.0 L506.6,175.4 L507.5,175.9 L508.3,176.4 L509.2,176.8 L510.1,177.3 L511.0,177.8 L511.9,178.2 L512.8,178.7 L513.7,179.1 L514.6,179.6 L515.5,180.1 L516.4,180.5 L517.3,181.0 L518.2,181.4 L519.0,181.9 L519.9,182.3 L520.8,182.8 L521.7,183.2 L522.6,183.7 L523.5,184.1 L524.4,184.6 L525.3,185.0 L526.2,185.5 L527.1,185.9 L528.0,186.4 L528.9,186.8 L529.8,187.2 L530.7,187.7 L531.6,188.1 L532.5,188.6 L533.4,189.0 L534.4,189.4 L535.3,189.9 L536.2,190.3 L537.1,190.7 L538.0,191.1 L538.9,191.6 L539.8,192.0 L540.7,192.4 L541.6,192.9 L542.5,193.3 L543.4,193.7 L544.3,194.1 L545.3,194.6 L546.2,195.0 L547.1,195.4 L548.0,195.8 L548.9,196.2 L549.8,196.6 L550.7,197.1 L551.7,197.5 L552.6,197.9 L553.5,198.3 L554.4,198.7 L555.3,199.1 L556.3,199.5 L557.2,199.9 L558.1,200.3 L559.0,200.7 L559.9,201.1 L560.9,201.5 L561.8,201.9 L562.7,202.3 L563.6,202.7 L564.6,203.1 L565.5,203.5 L566.4,203.9 L567.3,204.3 L568.3,204.7 L569.2,205.1 L570.1,205.5 L571.0,205.9 L572.0,206.3 L572.9,206.7 L573.8,207.1 L574.8,207.4 L575.7,207.8 L576.6,208.2 L577.6,208.6 L578.5,209.0 L579.4,209.4 L580.4,209.7 L581.3,210.1 L582.2,210.5 L583.2,210.9 L584.1,211.2 L585.0,211.7 L585.9,212.1 L586.8,212.5 L587.7,213.0 L588.6,213.4 L589.5,213.8 L590.5,214.3 L591.4,214.7 L592.3,215.1 L593.2,215.6 L594.1,216.0 L595.0,216.4" stroke="#ff0000" stroke-width="4" fill="none" clip-path="url(#cR)"/>
<path d="M353.5,29.0 L353.6,30.0 L353.7,31.0 L353.8,32.0 L353.9,33.0 L354.0,34.0 L354.1,35.1 L354.2,36.1 L354.3,37.1 L354.4,38.1 L354.5,39.1 L354.6,40.1 L354.7,41.1 L354.8,42.1 L354.9,43.1 L355.1,44.2 L355.2,45.2 L355.3,46.2 L355.4,47.2 L355.5,48.2 L355.6,49.2 L355.7,50.2 L355.8,51.3 L355.9,52.3 L356.0,53.3 L356.1,54.3 L356.2,55.3 L356.3,56.3 L356.4,57.3 L356.5,58.4 L356.6,59.4 L356.7,60.4 L356.8,61.4 L356.9,62.4 L357.0,63.4 L357.2,64.4 L357.3,65.5 L357.4,66.5 L357.5,67.5 L357.6,68.5 L357.7,69.5 L357.8,70.5 L357.9,71.5 L358.1,72.5 L358.2,73.6 L358.3,74.6 L358.4,75.6 L358.6,76.6 L358.7,77.6 L358.8,78.6 L358.9,79.6 L359.1,80.6 L359.2,81.6" stroke="#ff0000" stroke-width="3.2" fill="none" stroke-dasharray="3.3 3.8" stroke-dashoffset="6.66" clip-path="url(#cR)"/>
<path d="M359.2,81.6 L359.3,82.6 L359.5,83.6 L359.6,84.7 L359.8,85.7 L359.9,86.7 L360.1,87.7 L360.2,88.7 L360.4,89.7 L360.5,90.7 L360.7,91.7 L360.9,92.7 L361.1,93.7 L361.3,94.7 L361.5,95.6 L361.7,96.6 L361.9,97.6 L362.1,98.6 L362.3,99.6 L362.6,100.6 L362.8,101.6 L363.0,102.5 L363.3,103.5 L363.5,104.5 L364.2,105.2 L364.9,105.9 L365.6,106.6 L366.3,107.3 L367.0,108.0 L367.8,108.7 L368.5,109.4 L369.2,110.1 L369.9,110.8 L370.6,111.5 L371.3,112.1 L372.1,112.8 L372.8,113.5 L373.5,114.2 L374.3,114.9 L375.0,115.6 L375.7,116.3 L376.5,116.9 L377.2,117.6 L378.0,118.3 L378.7,119.0 L379.5,119.7 L380.2,120.3 L381.0,121.0 L381.7,121.7 L382.5,122.3 L383.2,123.0 L384.0,123.7 L384.8,124.3 L385.5,125.0 L386.3,125.6 L387.0,126.3 L387.8,127.0 L388.6,127.6 L389.3,128.3" stroke="#ff0000" stroke-width="3.2" fill="none" stroke-dasharray="3.3 3.8" stroke-dashoffset="6.89" clip-path="url(#cR)"/>
<path d="M389.3,128.3 L390.1,128.9 L390.9,129.6 L391.6,130.2 L392.4,130.9 L393.2,131.5 L393.9,132.1 L394.7,132.8 L395.5,133.4 L396.3,134.1 L397.0,134.7 L397.8,135.3 L398.6,136.0 L399.4,136.6 L400.2,137.2 L400.9,137.8 L401.7,138.5 L402.5,139.1 L403.3,139.7 L404.1,140.3 L404.9,141.0 L405.7,141.6 L406.5,142.2 L407.2,142.8 L408.0,143.4 L408.8,144.0 L409.6,144.6 L410.4,145.3 L411.2,145.9 L412.0,146.5 L412.8,147.1 L413.6,147.7 L414.4,148.3 L415.2,148.9 L416.0,149.5 L416.8,150.1 L417.6,150.7 L418.5,151.3 L419.3,151.9 L420.1,152.4 L420.9,153.0 L421.7,153.6 L422.5,154.2 L423.3,154.8 L424.1,155.4 L424.9,156.0 L425.8,156.5 L426.6,157.1 L427.4,157.7 L428.2,158.3 L429.0,158.9 L429.9,159.4 L430.7,160.0 L431.5,160.6 L432.3,161.1 L433.1,161.7 L434.0,162.3 L434.8,162.9 L435.6,163.4 L436.5,164.0 L437.3,164.5 L438.1,165.1 L438.9,165.7" stroke="#ff0000" stroke-width="3.2" fill="none" stroke-dasharray="3.3 3.8" stroke-dashoffset="7.05" clip-path="url(#cR)"/>
<path d="M438.9,165.7 L439.8,166.2 L440.6,166.8 L441.4,167.3 L442.3,167.9 L443.1,168.5 L443.9,169.0 L444.8,169.6 L445.6,170.1 L446.5,170.7 L447.3,171.2 L448.1,171.8 L449.0,172.3 L449.8,172.8 L450.7,173.4 L451.5,173.9 L452.4,174.5 L453.2,175.0 L454.0,175.6 L454.9,176.1 L455.7,176.6 L456.6,177.2 L457.4,177.7 L458.3,178.2 L459.1,178.8 L460.0,179.3 L460.8,179.8 L461.7,180.4 L462.5,180.9 L463.4,181.4 L464.2,181.9 L465.1,182.5 L466.0,183.0 L466.8,183.5 L467.7,184.0 L468.5,184.5 L469.4,185.1 L470.2,185.6 L471.1,186.1 L472.0,186.6 L472.8,187.1 L473.7,187.6 L474.6,188.2 L475.4,188.7 L476.3,189.2 L477.1,189.7 L478.0,190.2 L478.9,190.7 L479.7,191.2 L480.6,191.7 L481.5,192.2 L482.3,192.7 L483.2,193.2 L484.1,193.7 L485.0,194.3 L485.8,194.8 L486.7,195.3 L487.6,195.8 L488.4,196.3 L489.3,196.8 L490.2,197.2 L491.1,197.7 L491.9,198.2 L492.8,198.7 L493.7,199.2 L494.6,199.7 L495.4,200.2 L496.3,200.7 L497.2,201.2 L498.1,201.7 L498.9,202.2 L499.8,202.7 L500.7,203.2 L501.6,203.6 L502.5,204.1 L503.3,204.6 L504.2,205.1 L505.1,205.6 L506.0,206.1 L506.9,206.5 L507.7,207.0 L508.6,207.5 L509.5,208.0 L510.4,208.5 L511.3,208.9 L512.2,209.4 L513.0,209.9 L513.9,210.4 L514.8,210.9 L515.7,211.3 L516.6,211.8 L517.5,212.3 L518.4,212.8 L519.2,213.2 L520.1,213.7 L521.0,214.2 L521.9,214.6 L522.8,215.1 L523.7,215.6 L524.6,216.0 L525.5,216.5 L526.4,217.0 L527.2,217.5 L528.1,217.9 L529.0,218.4 L529.9,218.9 L530.8,219.3 L531.7,219.8 L532.6,220.2 L533.5,220.7 L534.4,221.2 L535.3,221.6 L536.2,222.1 L537.0,222.6 L537.9,223.0 L538.8,223.5 L539.7,223.9 L540.6,224.4 L541.5,224.9 L542.4,225.3 L543.3,225.8 L544.2,226.2 L545.1,226.7 L546.0,227.2 L546.9,227.6 L547.8,228.1 L548.7,228.5 L549.6,229.0 L550.5,229.4 L551.3,229.9 L552.2,230.3 L553.1,230.8 L554.0,231.3 L554.9,231.7 L555.8,232.2 L556.7,232.6 L557.6,233.1 L558.5,233.5 L559.4,234.0 L560.3,234.4 L561.2,234.9 L562.1,235.3 L563.0,235.8 L563.9,236.2 L564.8,236.7 L565.7,237.1 L566.6,237.6 L567.5,238.0 L568.4,238.5 L569.3,238.9 L570.2,239.4 L571.1,239.8 L572.0,240.3 L572.8,240.7 L573.7,241.2 L574.6,241.6 L575.5,242.1 L576.4,242.5 L577.3,243.0 L578.2,243.4 L579.1,243.8 L580.0,244.3 L580.9,244.7 L581.8,245.2 L582.7,245.6 L583.6,246.1 L584.5,246.5 L585.4,247.0 L586.2,247.5 L587.1,248.0 L588.0,248.5 L588.9,249.0 L589.8,249.5 L590.6,250.0 L591.5,250.4 L592.4,250.9 L593.3,251.4 L594.1,251.9 L595.0,252.4" stroke="#ff0000" stroke-width="3.2" fill="none" stroke-dasharray="3.3 3.8" stroke-dashoffset="5.06" clip-path="url(#cR)"/>
<path d="M337.7,100.0 L338.7,100.0 L339.7,100.0 L340.7,100.0 L341.7,100.0 L342.7,100.0 L343.8,100.0 L344.8,100.0 L345.8,100.0 L346.8,100.0 L347.8,100.0 L348.8,100.0 L349.8,100.0 L350.8,100.0 L351.8,100.0 L352.8,100.0 L353.8,100.0 L354.9,100.0 L355.9,100.0 L356.9,100.0 L357.9,100.0 L358.9,100.0 L359.9,100.0 L360.9,100.0 L361.9,100.0 L362.9,100.0 L363.9,100.0 L364.9,100.0 L365.9,100.0 L367.0,100.0 L368.0,100.0 L369.0,100.0 L370.0,100.0 L371.0,100.0 L372.0,100.0 L373.1,99.9 L374.2,99.9 L375.3,99.9 L376.4,99.9 L377.5,99.9 L378.5,100.0 L379.6,100.0 L380.6,100.1 L381.6,100.2 L382.6,100.4 L383.6,100.5 L384.6,100.7" stroke="#ff0000" stroke-width="3.2" fill="none" stroke-dasharray="3.9 4.5 1.3 4.5" stroke-dashoffset="11.18" clip-path="url(#cR)"/>
<path d="M384.6,100.7 L385.7,100.9 L386.7,101.0 L387.7,101.2 L388.7,101.4 L389.7,101.7 L390.7,101.9 L391.7,102.2 L392.7,102.4 L393.6,102.7 L394.6,103.1 L395.5,103.4 L396.5,103.7 L397.4,104.1 L398.3,104.5 L399.2,104.9 L400.1,105.3 L400.9,105.7 L401.8,106.2 L402.6,106.6 L403.5,107.1 L404.3,107.6 L405.2,108.1 L406.0,108.6 L406.8,109.2 L407.6,109.7 L408.4,110.3 L409.2,110.9 L409.9,111.4 L410.7,112.0 L411.4,112.7 L412.2,113.3 L412.9,113.9 L413.7,114.6 L414.4,115.2 L415.1,115.9 L415.8,116.6 L416.5,117.2 L417.2,117.9 L417.9,118.6 L418.6,119.4 L419.2,120.1 L419.9,120.8 L420.6,121.6 L421.2,122.3 L421.9,123.1 L422.5,123.8 L423.1,124.6 L423.8,125.4 L424.4,126.2 L425.0,127.0 L425.6,127.8 L426.3,128.6 L426.9,129.4 L427.5,130.2 L428.1,131.0 L428.7,131.8 L429.3,132.6 L429.9,133.5 L430.5,134.3 L431.1,135.1 L431.7,136.0 L432.3,136.8 L432.8,137.6 L433.4,138.5 L434.0,139.3 L434.6,140.1 L435.2,141.0 L435.8,141.8 L436.4,142.7 L437.0,143.5 L437.6,144.3 L438.1,145.2 L438.7,146.0 L439.3,146.8 L439.9,147.7 L440.5,148.5 L441.1,149.3" stroke="#ff0000" stroke-width="3.2" fill="none" stroke-dasharray="3.9 4.5 1.3 4.5" stroke-dashoffset="1.56" clip-path="url(#cR)"/>
<path d="M441.1,149.3 L441.7,150.1 L442.3,151.0 L443.0,151.8 L443.6,152.6 L444.2,153.4 L444.8,154.2 L445.4,155.0 L446.1,155.8 L446.7,156.6 L447.3,157.3 L448.0,158.1 L448.6,158.9 L449.3,159.6 L450.0,160.4 L450.6,161.1 L451.3,161.9 L452.0,162.6 L452.7,163.3 L453.3,164.0 L454.0,164.7 L454.7,165.5 L455.4,166.2 L456.1,166.9 L456.8,167.5 L457.6,168.2 L458.3,168.9 L459.0,169.6 L459.7,170.3 L460.4,170.9 L461.2,171.6 L461.9,172.2 L462.7,172.9 L463.4,173.5 L464.2,174.1 L464.9,174.8 L465.7,175.4 L466.5,176.0 L467.2,176.6 L468.0,177.2 L468.8,177.8 L469.6,178.4 L470.3,179.0 L471.1,179.6 L471.9,180.2 L472.7,180.8 L473.5,181.4 L474.3,181.9 L475.1,182.5 L475.9,183.0 L476.7,183.6 L477.6,184.2 L478.4,184.7 L479.2,185.2 L480.0,185.8 L480.9,186.3 L481.7,186.8 L482.5,187.4 L483.4,187.9 L484.2,188.4 L485.1,188.9 L485.9,189.4 L486.8,189.9 L487.6,190.4 L488.5,190.9 L489.4,191.4 L490.2,191.9 L491.1,192.4 L492.0,192.8 L492.8,193.3 L493.7,193.8 L494.6,194.2 L495.5,194.7 L496.4,195.2 L497.2,195.6 L498.1,196.1 L499.0,196.5 L499.9,197.0 L500.8,197.4 L501.7,197.8" stroke="#ff0000" stroke-width="3.2" fill="none" stroke-dasharray="3.9 4.5 1.3 4.5" stroke-dashoffset="9.05" clip-path="url(#cR)"/>
<path d="M501.7,197.8 L502.6,198.3 L503.5,198.7 L504.4,199.1 L505.3,199.5 L506.2,200.0 L507.2,200.4 L508.1,200.8 L509.0,201.2 L509.9,201.6 L510.8,202.0 L511.8,202.4 L512.7,202.8 L513.6,203.2 L514.5,203.6 L515.5,204.0 L516.4,204.4 L517.3,204.8 L518.3,205.2 L519.2,205.5 L520.1,205.9 L521.1,206.3 L522.0,206.7 L523.0,207.0 L523.9,207.4 L524.9,207.8 L525.8,208.1 L526.8,208.5 L527.7,208.8 L528.7,209.2 L529.6,209.6 L530.6,209.9 L531.5,210.3 L532.5,210.6 L533.4,210.9 L534.4,211.3 L535.4,211.6 L536.3,212.0 L537.3,212.3 L538.2,212.6 L539.2,213.0 L540.2,213.3 L541.1,213.6 L542.1,214.0 L543.1,214.3 L544.0,214.6 L545.0,214.9 L546.0,215.3 L546.9,215.6 L547.9,215.9 L548.9,216.2 L549.8,216.5 L550.8,216.9 L551.8,217.2 L552.7,217.5 L553.7,217.8 L554.7,218.1 L555.6,218.4 L556.6,218.7 L557.6,219.1 L558.6,219.4 L559.5,219.7 L560.5,220.0 L561.5,220.3 L562.4,220.6 L563.4,220.9 L564.4,221.2 L565.3,221.5 L566.3,221.8 L567.3,222.1 L568.3,222.4 L569.2,222.7 L570.2,223.0 L571.2,223.3 L572.1,223.6 L573.1,223.9 L574.1,224.2 L575.0,224.5 L576.0,224.8 L576.9,225.1 L577.9,225.4 L578.9,225.7 L579.8,226.0 L580.8,226.3 L581.7,226.6 L582.7,226.9 L583.7,227.2 L584.6,227.5 L585.6,227.9 L586.5,228.2 L587.5,228.5 L588.4,228.8 L589.4,229.1 L590.3,229.4 L591.2,229.7 L592.2,230.0 L593.1,230.4 L594.1,230.7 L595.0,231.0" stroke="#ff0000" stroke-width="3.2" fill="none" stroke-dasharray="3.9 4.5 1.3 4.5" stroke-dashoffset="1.09" clip-path="url(#cR)"/>
<path d="M337.70,100.00h3.6" stroke="#ff0000" stroke-width="3.2" clip-path="url(#cR)"/>
<path d="M337.7,116.7 L338.4,117.4 L339.2,118.1 L339.9,118.7 L340.7,119.4 L341.4,120.1 L342.2,120.7 L342.9,121.4 L343.7,122.1 L344.4,122.8 L345.2,123.4 L345.9,124.1 L346.7,124.8 L347.4,125.4 L348.2,126.1 L348.9,126.8 L349.7,127.4 L350.4,128.1 L351.2,128.8 L351.9,129.5 L352.7,130.1 L353.4,130.8 L354.2,131.5 L354.9,132.1 L355.7,132.8 L356.4,133.4 L357.2,134.1 L358.0,134.8 L358.7,135.4 L359.5,136.1 L360.3,136.7 L361.0,137.4 L361.8,138.0 L362.5,138.7 L363.3,139.3 L364.1,140.0 L364.8,140.6 L365.6,141.3 L366.4,141.9 L367.2,142.5 L367.9,143.2 L368.7,143.8 L369.5,144.5 L370.3,145.1 L371.0,145.7 L371.8,146.4 L372.6,147.0 L373.4,147.6 L374.2,148.3 L374.9,148.9 L375.7,149.5 L376.5,150.2 L377.3,150.8 L378.1,151.4 L378.9,152.0 L379.6,152.7 L380.4,153.3 L381.2,153.9 L382.0,154.5 L382.8,155.1 L383.6,155.8 L384.4,156.4 L385.2,157.0 L386.0,157.6 L386.8,158.2 L387.6,158.8 L388.4,159.4 L389.2,160.0 L390.0,160.6 L390.8,161.2 L391.6,161.8 L392.4,162.4 L393.2,163.1 L394.0,163.7 L394.8,164.3 L395.6,164.8 L396.4,165.4 L397.2,166.0 L398.0,166.6 L398.8,167.2 L399.6,167.8 L400.4,168.4 L401.2,169.0 L402.1,169.6 L402.9,170.2 L403.7,170.8 L404.5,171.4 L405.3,171.9 L406.1,172.5 L407.0,173.1 L407.8,173.7 L408.6,174.3 L409.4,174.8 L410.2,175.4 L411.1,176.0 L411.9,176.6 L412.7,177.1 L413.5,177.7 L414.3,178.3 L415.2,178.9 L416.0,179.4 L416.8,180.0 L417.7,180.6 L418.5,181.1 L419.3,181.7 L420.1,182.3 L421.0,182.8 L421.8,183.4 L422.6,183.9 L423.5,184.5 L424.3,185.1 L425.1,185.6 L426.0,186.2 L426.8,186.7 L427.7,187.3 L428.5,187.8 L429.3,188.4 L430.2,188.9 L431.0,189.5 L431.9,190.0 L432.7,190.6 L433.5,191.1 L434.4,191.7 L435.2,192.2 L436.1,192.7 L436.9,193.3 L437.8,193.8 L438.6,194.4 L439.5,194.9 L440.3,195.4 L441.2,196.0 L442.0,196.5 L442.9,197.1 L443.7,197.6 L444.6,198.1 L445.4,198.6 L446.3,199.2 L447.1,199.7 L448.0,200.2 L448.8,200.8 L449.7,201.3 L450.5,201.8 L451.4,202.3 L452.3,202.9 L453.1,203.4 L454.0,203.9 L454.8,204.4 L455.7,204.9 L456.6,205.5 L457.4,206.0 L458.3,206.5 L459.1,207.0 L460.0,207.5 L460.9,208.0 L461.7,208.5 L462.6,209.1 L463.5,209.6 L464.3,210.1 L465.2,210.6 L466.1,211.1 L466.9,211.6 L467.8,212.1 L468.7,212.6 L469.5,213.1 L470.4,213.6 L471.3,214.1 L472.2,214.6 L473.0,215.1 L473.9,215.6 L474.8,216.1 L475.7,216.6 L476.5,217.1 L477.4,217.6 L478.3,218.1 L479.2,218.6 L480.0,219.1 L480.9,219.5 L481.8,220.0 L482.7,220.5 L483.6,221.0 L484.4,221.5 L485.3,222.0 L486.2,222.5 L487.1,222.9 L488.0,223.4 L488.8,223.9 L489.7,224.4 L490.6,224.9 L491.5,225.4 L492.4,225.8 L493.3,226.3 L494.1,226.8 L495.0,227.3 L495.9,227.7 L496.8,228.2 L497.7,228.7 L498.6,229.1 L499.5,229.6 L500.4,230.1 L501.3,230.6 L502.1,231.0 L503.0,231.5 L503.9,232.0 L504.8,232.4 L505.7,232.9 L506.6,233.3 L507.5,233.8 L508.4,234.3 L509.3,234.7 L510.2,235.2 L511.1,235.7 L512.0,236.1 L512.9,236.6 L513.8,237.0 L514.7,237.5 L515.6,237.9 L516.4,238.4 L517.3,238.8 L518.2,239.3 L519.1,239.7 L520.0,240.2 L520.9,240.6 L521.8,241.1 L522.7,241.5 L523.6,242.0 L524.5,242.4 L525.4,242.9 L526.3,243.3 L527.3,243.8 L528.2,244.2 L529.1,244.6 L530.0,245.1 L530.9,245.5 L531.8,246.0 L532.7,246.4 L533.6,246.8 L534.5,247.3 L535.4,247.7 L536.3,248.2 L537.2,248.6 L538.1,249.0 L539.0,249.5 L539.9,249.9 L540.8,250.3 L541.7,250.7 L542.6,251.2 L543.6,251.6 L544.5,252.0 L545.4,252.5 L546.3,252.9 L547.2,253.3 L548.1,253.7 L549.0,254.2 L549.9,254.6 L550.8,255.0 L551.8,255.4 L552.7,255.8 L553.6,256.3 L554.5,256.7 L555.4,257.1 L556.3,257.5 L557.2,257.9 L558.1,258.4 L559.1,258.8 L560.0,259.2 L560.9,259.6 L561.8,260.0 L562.7,260.4 L563.6,260.8 L564.5,261.3 L565.5,261.7 L566.4,262.1 L567.3,262.5 L568.2,262.9 L569.1,263.3 L570.0,263.7 L571.0,264.1 L571.9,264.5 L572.8,264.9 L573.7,265.3 L574.6,265.7 L575.5,266.1 L576.5,266.5 L577.4,266.9 L578.3,267.3 L579.2,267.7 L580.1,268.1 L581.1,268.5 L582.0,268.9 L582.9,269.3 L583.8,269.7 L584.8,270.1 L585.7,270.5 L586.6,270.8 L587.5,271.2 L588.5,271.6 L589.4,272.0 L590.3,272.3 L591.3,272.7 L592.2,273.1 L593.1,273.5 L594.1,273.8 L595.0,274.2" stroke="#00ff00" stroke-width="3.2" fill="none" clip-path="url(#cR)"/>
<path d="M337.9,36.7 L338.4,37.6 L338.9,38.5 L339.4,39.4 L339.9,40.3 L340.4,41.2 L340.8,42.1 L341.3,43.0 L341.7,43.9 L342.2,44.8 L342.6,45.7 L343.0,46.6 L343.4,47.5 L343.8,48.5 L344.2,49.4 L344.6,50.4 L344.9,51.3 L345.3,52.2 L345.6,53.2 L346.0,54.1 L346.3,55.1 L346.6,56.0 L346.9,57.0 L347.3,57.9 L347.6,58.9 L347.9,59.9 L348.1,60.8 L348.4,61.8 L348.7,62.8 L349.0,63.7 L349.2,64.7 L349.5,65.7 L349.8,66.6 L350.0,67.6 L350.2,68.6 L350.5,69.5 L350.7,70.5 L350.9,71.5 L351.1,72.5 L351.4,73.5 L351.6,74.5 L351.8,75.4 L352.0,76.4 L352.2,77.4 L352.3,78.4 L352.5,79.4 L352.7,80.4 L352.9,81.4 L353.1,82.4 L353.2,83.4 L353.4,84.3 L353.5,85.3 L353.7,86.3 L353.8,87.3 L354.0,88.3 L354.1,89.3 L354.3,90.3 L354.4,91.3 L354.6,92.3 L354.7,93.3 L354.8,94.3 L354.9,95.3 L355.1,96.4 L355.2,97.4 L355.3,98.4 L355.4,99.4 L355.5,100.4 L355.6,101.4 L355.8,102.4 L355.9,103.4 L356.0,104.4 L356.1,105.4 L356.2,106.4 L356.3,107.4 L356.4,108.4 L356.5,109.5 L356.6,110.5 L356.7,111.5 L356.8,112.5 L356.9,113.5 L357.0,114.5 L357.1,115.5 L357.2,116.5 L357.3,117.5 L357.4,118.6 L357.5,119.6 L357.5,120.6 L357.6,121.6 L357.7,122.6 L357.8,123.6 L357.9,124.6 L358.0,125.6 L358.1,126.6 L358.2,127.6 L358.3,128.7 L358.4,129.7 L358.5,130.7 L358.6,131.7 L358.7,132.7 L358.9,133.7 L359.0,134.7 L359.1,135.7 L359.2,136.7 L359.3,137.7 L359.4,138.7 L359.5,139.7" stroke="#00ff00" stroke-width="3.2" fill="none" stroke-dasharray="3.3 3.8" stroke-dashoffset="0.60" clip-path="url(#cR)"/>
<path d="M359.5,139.7 L359.7,140.7 L359.8,141.7 L359.9,142.7 L360.0,143.7 L360.2,144.7 L360.3,145.7 L360.5,146.7 L360.6,147.7 L360.7,148.7 L360.9,149.7 L361.0,150.7 L361.2,151.7 L361.4,152.7 L361.5,153.7 L361.7,154.7 L361.9,155.7 L362.1,156.7 L362.3,157.6 L362.5,158.6 L362.7,159.6 L362.9,160.6 L363.1,161.6 L363.3,162.6 L363.5,163.5 L363.8,164.5 L364.0,165.5 L364.7,166.2 L365.5,166.8 L366.2,167.5 L367.0,168.2 L367.7,168.9 L368.4,169.5 L369.2,170.2 L369.9,170.9 L370.7,171.5 L371.4,172.2 L372.2,172.9 L372.9,173.5 L373.7,174.2 L374.4,174.8 L375.2,175.5 L376.0,176.1 L376.7,176.8 L377.5,177.4 L378.3,178.1 L379.0,178.7 L379.8,179.4 L380.6,180.0 L381.4,180.7 L382.1,181.3 L382.9,182.0 L383.7,182.6 L384.5,183.2 L385.3,183.9 L386.0,184.5 L386.8,185.2 L387.6,185.8 L388.4,186.4 L389.2,187.1 L389.9,187.7 L390.7,188.3 L391.5,188.9 L392.3,189.6 L393.1,190.2 L393.9,190.8 L394.7,191.5 L395.4,192.1 L396.2,192.7 L397.0,193.3 L397.8,194.0 L398.6,194.6 L399.4,195.2 L400.2,195.8 L401.0,196.4 L401.8,197.0 L402.6,197.7 L403.4,198.3 L404.2,198.9 L405.0,199.5 L405.8,200.1 L406.6,200.7 L407.4,201.3 L408.2,201.9 L409.0,202.5 L409.8,203.2 L410.6,203.8 L411.4,204.4 L412.2,205.0 L413.0,205.6 L413.8,206.2 L414.6,206.8 L415.4,207.4 L416.2,208.0 L417.1,208.6 L417.9,209.2 L418.7,209.8 L419.5,210.4 L420.3,210.9 L421.1,211.5 L421.9,212.1 L422.8,212.7 L423.6,213.3 L424.4,213.9 L425.2,214.5 L426.0,215.1 L426.8,215.6 L427.7,216.2 L428.5,216.8 L429.3,217.4 L430.1,218.0 L430.9,218.6 L431.8,219.1 L432.6,219.7 L433.4,220.3 L434.2,220.9 L435.1,221.4 L435.9,222.0 L436.7,222.6 L437.6,223.2 L438.4,223.7 L439.2,224.3 L440.0,224.9 L440.9,225.4 L441.7,226.0 L442.5,226.6 L443.4,227.1 L444.2,227.7 L445.0,228.3 L445.9,228.8 L446.7,229.4" stroke="#00ff00" stroke-width="3.2" fill="none" stroke-dasharray="3.3 3.8" stroke-dashoffset="1.47" clip-path="url(#cR)"/>
<path d="M446.7,229.4 L447.6,229.9 L448.4,230.5 L449.2,231.1 L450.1,231.6 L450.9,232.2 L451.8,232.7 L452.6,233.3 L453.4,233.8 L454.3,234.4 L455.1,234.9 L456.0,235.5 L456.8,236.0 L457.7,236.6 L458.5,237.1 L459.3,237.7 L460.2,238.2 L461.0,238.8 L461.9,239.3 L462.7,239.8 L463.6,240.4 L464.4,240.9 L465.3,241.5 L466.1,242.0 L467.0,242.5 L467.8,243.1 L468.7,243.6 L469.6,244.1 L470.4,244.7 L471.3,245.2 L472.1,245.7 L473.0,246.3 L473.8,246.8 L474.7,247.3 L475.5,247.9 L476.4,248.4 L477.3,248.9 L478.1,249.4 L479.0,250.0 L479.8,250.5 L480.7,251.0 L481.6,251.5 L482.4,252.0 L483.3,252.6 L484.2,253.1 L485.0,253.6 L485.9,254.1 L486.8,254.6 L487.6,255.1 L488.5,255.6 L489.4,256.2 L490.2,256.7 L491.1,257.2 L492.0,257.7" stroke="#00ff00" stroke-width="3.2" fill="none" stroke-dasharray="3.3 3.8" stroke-dashoffset="4.92" clip-path="url(#cR)"/>
<path d="M491.1,257.2 L492.0,257.7 L492.8,258.2 L493.7,258.7 L494.6,259.2 L495.5,259.7 L496.3,260.2 L497.2,260.7 L498.1,261.2 L498.9,261.7 L499.8,262.2 L500.7,262.7 L501.6,263.2 L502.4,263.7 L503.3,264.2 L504.2,264.7 L505.1,265.2 L506.0,265.7 L506.8,266.2 L507.7,266.7 L508.6,267.2 L509.5,267.7 L510.4,268.2 L511.2,268.6 L512.1,269.1 L513.0,269.6 L513.9,270.1 L514.8,270.6 L515.7,271.1 L516.5,271.6 L517.4,272.1 L518.2,272.6 L519.1,273.2 L520.0,273.7 L520.8,274.2 L521.7,274.7 L522.5,275.2 L523.4,275.8 L524.3,276.3 L525.1,276.8 L526.0,277.3" stroke="#00ff00" stroke-width="3.2" fill="none" stroke-dasharray="3.3 3.8" stroke-dashoffset="0.78" clip-path="url(#cR)"/>
<path d="M337.7,154.2 L338.7,154.2 L339.7,154.2 L340.7,154.2 L341.7,154.2 L342.7,154.2 L343.7,154.2 L344.7,154.2 L345.7,154.2 L346.7,154.2 L347.7,154.2 L348.7,154.2 L349.8,154.2 L350.8,154.2 L351.8,154.2 L352.8,154.2 L353.8,154.2 L354.8,154.2 L355.8,154.1 L356.8,154.1 L357.8,154.1 L358.8,154.1 L359.8,154.1 L360.8,154.1 L361.8,154.1 L362.8,154.1 L363.8,154.1 L364.8,154.1 L365.8,154.1 L366.8,154.1 L367.8,154.1 L368.8,154.1 L369.8,154.1 L370.8,154.1 L371.8,154.1 L372.9,154.1 L373.9,154.1 L374.9,154.1 L375.9,154.1 L376.9,154.1 L377.9,154.1 L378.9,154.1 L379.9,154.1 L380.9,154.1 L381.9,154.1 L382.9,154.1 L383.9,154.1 L384.9,154.1" stroke="#00ff00" stroke-width="3.2" fill="none" stroke-dasharray="3.9 4.5 1.3 4.5" stroke-dashoffset="11.27" clip-path="url(#cR)"/>
<path d="M384.9,154.1 L385.9,154.1 L386.9,154.1 L387.9,154.1 L388.9,154.1 L389.9,154.1 L390.9,154.0 L391.9,154.0 L392.9,154.0 L393.9,154.0 L394.9,154.0 L395.9,154.0 L397.0,154.0 L398.0,154.0 L399.0,154.0 L400.0,154.0 L401.0,154.0 L402.0,154.0 L403.0,154.0 L404.0,154.0 L405.0,154.0 L406.0,154.0 L407.0,154.0 L408.0,154.0 L409.2,154.0 L410.3,154.2 L411.4,154.3 L412.4,154.6 L413.3,154.9 L414.2,155.3 L415.1,155.7 L415.9,156.2 L416.7,156.7 L417.4,157.2 L418.1,157.8 L418.8,158.5 L419.4,159.1 L420.1,159.9 L420.7,160.6 L421.3,161.4 L421.8,162.1 L422.4,162.9 L423.0,163.7 L423.5,164.5 L424.1,165.4 L424.7,166.2 L425.3,167.0 L425.9,167.8 L426.5,168.6 L427.1,169.3 L427.8,170.1 L428.4,170.8 L429.1,171.5 L429.9,172.2 L430.6,172.9 L431.3,173.6 L432.1,174.3 L432.9,174.9 L433.6,175.6 L434.4,176.3 L435.2,176.9 L436.0,177.6 L436.7,178.2 L437.5,178.9 L438.2,179.5 L439.0,180.2 L439.7,180.9 L440.4,181.6 L441.1,182.3 L441.8,183.0 L442.4,183.8 L443.0,184.5 L443.6,185.3 L444.2,186.1 L444.7,186.9 L445.2,187.7 L445.7,188.6 L446.2,189.4 L446.6,190.3 L447.1,191.2 L447.5,192.1 L447.9,193.0 L448.3,193.9 L448.7,194.8 L449.0,195.7 L449.4,196.7 L449.7,197.6 L450.1,198.6 L450.4,199.5 L450.7,200.5 L451.0,201.5" stroke="#00ff00" stroke-width="3.2" fill="none" stroke-dasharray="3.9 4.5 1.3 4.5" stroke-dashoffset="1.82" clip-path="url(#cR)"/>
<path d="M451.0,201.5 L451.3,202.5 L451.6,203.4 L451.9,204.4 L452.1,205.4 L452.4,206.4 L452.7,207.4 L453.0,208.3 L453.2,209.3 L453.5,210.3 L453.8,211.3 L454.1,212.3 L454.4,213.3 L454.6,214.2 L454.9,215.2 L455.2,216.2 L455.6,217.1 L455.9,218.1 L456.2,219.0 L456.5,219.9 L456.9,220.9 L457.2,221.8 L457.6,222.7 L458.0,223.6 L458.4,224.5 L458.8,225.3 L459.3,226.2 L459.7,227.1 L460.2,227.9 L460.7,228.7 L461.2,229.5 L461.8,230.3 L462.3,231.1 L462.9,231.8 L463.5,232.6 L464.1,233.3 L464.7,234.0 L465.4,234.7 L466.1,235.4 L466.7,236.1 L467.4,236.7 L468.2,237.4 L468.9,238.0 L469.6,238.7 L470.4,239.3 L471.1,239.9 L471.9,240.5 L472.7,241.1 L473.5,241.7 L474.4,242.2 L475.2,242.8 L476.0,243.3 L476.9,243.9 L477.7,244.4 L478.6,244.9 L479.5,245.4 L480.4,245.9 L481.3,246.4 L482.2,246.9 L483.1,247.4 L484.0,247.9 L484.9,248.4 L485.8,248.8 L486.8,249.3 L487.7,249.7 L488.6,250.2 L489.6,250.6 L490.5,251.1 L491.5,251.5 L492.4,251.9 L493.3,252.3 L494.3,252.8 L495.2,253.2 L496.2,253.6 L497.1,254.0 L498.1,254.4 L499.0,254.8 L500.0,255.2 L500.9,255.6 L501.9,256.0 L502.8,256.4 L503.7,256.8 L504.7,257.2 L505.6,257.6 L506.5,258.0 L507.4,258.4 L508.4,258.8 L509.3,259.2 L510.2,259.6 L511.1,260.0 L512.1,260.3 L513.0,260.7 L513.9,261.1 L514.8,261.5 L515.7,261.9 L516.6,262.3 L517.6,262.6 L518.5,263.0 L519.4,263.4 L520.3,263.7 L521.2,264.1 L522.1,264.5 L523.0,264.9 L524.0,265.2 L524.9,265.6 L525.8,266.0 L526.7,266.3 L527.6,266.7 L528.5,267.0 L529.5,267.4 L530.4,267.8 L531.3,268.1 L532.2,268.5 L533.2,268.8 L534.1,269.2 L535.0,269.5 L536.0,269.9 L536.9,270.2 L537.8,270.6 L538.8,270.9 L539.7,271.3 L540.7,271.6 L541.6,272.0 L542.6,272.3 L543.5,272.6 L544.5,273.0 L545.4,273.4 L546.4,273.7 L547.3,274.1 L548.2,274.4 L549.2,274.8 L550.2,275.2 L551.1,275.5 L552.1,275.9 L553.1,276.2 L554.0,276.6 L555.0,276.9 L556.0,277.3" stroke="#00ff00" stroke-width="3.2" fill="none" stroke-dasharray="3.9 4.5 1.3 4.5" stroke-dashoffset="10.32" clip-path="url(#cR)"/>
<path d="M337.70,154.20h3.6" stroke="#00ff00" stroke-width="3.2" clip-path="url(#cR)"/>
<path d="M337.7,94.3 L338.4,95.0 L339.2,95.6 L339.9,96.3 L340.7,97.0 L341.4,97.7 L342.2,98.3 L342.9,99.0 L343.7,99.7 L344.4,100.3 L345.2,101.0 L345.9,101.6 L346.7,102.3 L347.4,103.0 L348.2,103.7 L348.9,104.3 L349.7,105.0 L350.4,105.7 L351.2,106.4 L351.9,107.1 L352.7,107.7 L353.4,108.4 L354.2,109.1 L354.9,109.8 L355.7,110.4 L356.4,111.1 L357.2,111.8 L357.9,112.4 L358.7,113.1 L359.5,113.8 L360.2,114.4 L361.0,115.1 L361.8,115.7 L362.5,116.4 L363.3,117.0 L364.0,117.7 L364.8,118.3 L365.6,119.0 L366.4,119.6 L367.1,120.3 L367.9,120.9 L368.7,121.6 L369.5,122.2 L370.2,122.9 L371.0,123.5 L371.8,124.1 L372.6,124.8 L373.3,125.4 L374.1,126.0 L374.9,126.7 L375.7,127.3 L376.5,127.9 L377.3,128.6 L378.0,129.2 L378.8,129.8 L379.6,130.4 L380.4,131.0 L381.2,131.7 L382.0,132.3 L382.8,132.9 L383.6,133.5 L384.4,134.1 L385.2,134.7 L386.0,135.3 L386.8,136.0 L387.6,136.6 L388.4,137.2 L389.2,137.8 L390.0,138.4 L390.8,139.0 L391.6,139.6 L392.4,140.2 L393.2,140.8 L394.0,141.4 L394.8,142.0 L395.6,142.6 L396.4,143.2 L397.2,143.8 L398.0,144.3 L398.8,144.9 L399.7,145.5 L400.5,146.1 L401.3,146.7 L402.1,147.3 L402.9,147.9 L403.7,148.4 L404.6,149.0 L405.4,149.6 L406.2,150.2 L407.0,150.8 L407.8,151.3 L408.7,151.9 L409.5,152.5 L410.3,153.0 L411.1,153.6 L412.0,154.2 L412.8,154.7 L413.6,155.3 L414.4,155.9 L415.3,156.4 L416.1,157.0 L416.9,157.6 L417.8,158.1 L418.6,158.7 L419.4,159.2 L420.3,159.8 L421.1,160.3 L421.9,160.9 L422.8,161.5 L423.6,162.0 L424.5,162.6 L425.3,163.1 L426.1,163.7 L427.0,164.2 L427.8,164.7 L428.7,165.3 L429.5,165.8 L430.3,166.4 L431.2,166.9 L432.0,167.5 L432.9,168.0 L433.7,168.5 L434.6,169.1 L435.4,169.6 L436.3,170.1 L437.1,170.7 L438.0,171.2 L438.8,171.7 L439.7,172.3 L440.5,172.8 L441.4,173.3 L442.2,173.8 L443.1,174.4 L443.9,174.9 L444.8,175.4 L445.7,175.9 L446.5,176.4 L447.4,177.0 L448.2,177.5 L449.1,178.0 L450.0,178.5 L450.8,179.0 L451.7,179.6 L452.5,180.1 L453.4,180.6 L454.3,181.1 L455.1,181.6 L456.0,182.1 L456.9,182.6 L457.7,183.1 L458.6,183.6 L459.5,184.1 L460.3,184.6 L461.2,185.1 L462.1,185.6 L462.9,186.1 L463.8,186.6 L464.7,187.1 L465.6,187.6 L466.4,188.1 L467.3,188.6 L468.2,189.1 L469.0,189.6 L469.9,190.1 L470.8,190.6 L471.7,191.1 L472.5,191.6 L473.4,192.1 L474.3,192.6 L475.2,193.1 L476.1,193.6 L476.9,194.0 L477.8,194.5 L478.7,195.0 L479.6,195.5 L480.5,196.0 L481.3,196.5 L482.2,196.9 L483.1,197.4 L484.0,197.9 L484.9,198.4 L485.8,198.9 L486.6,199.3 L487.5,199.8 L488.4,200.3 L489.3,200.8 L490.2,201.2 L491.1,201.7 L492.0,202.2 L492.8,202.6 L493.7,203.1 L494.6,203.6 L495.5,204.1 L496.4,204.5 L497.3,205.0 L498.2,205.5 L499.1,205.9 L500.0,206.4 L500.9,206.8 L501.8,207.3 L502.6,207.8 L503.5,208.2 L504.4,208.7 L505.3,209.2 L506.2,209.6 L507.1,210.1 L508.0,210.5 L508.9,211.0 L509.8,211.4 L510.7,211.9 L511.6,212.4 L512.5,212.8 L513.4,213.3 L514.3,213.7 L515.2,214.2 L516.1,214.6 L517.0,215.1 L517.9,215.5 L518.8,216.0 L519.7,216.4 L520.6,216.9 L521.5,217.3 L522.4,217.8 L523.3,218.2 L524.2,218.7 L525.1,219.1 L526.0,219.6 L526.9,220.0 L527.8,220.4 L528.7,220.9 L529.6,221.3 L530.5,221.8 L531.4,222.2 L532.3,222.6 L533.2,223.1 L534.1,223.5 L535.0,224.0 L535.9,224.4 L536.8,224.8 L537.7,225.3 L538.7,225.7 L539.6,226.1 L540.5,226.6 L541.4,227.0 L542.3,227.5 L543.2,227.9 L544.1,228.3 L545.0,228.8 L545.9,229.2 L546.8,229.6 L547.7,230.0 L548.6,230.5 L549.5,230.9 L550.5,231.3 L551.4,231.8 L552.3,232.2 L553.2,232.6 L554.1,233.0 L555.0,233.5 L555.9,233.9 L556.8,234.3 L557.7,234.8 L558.6,235.2 L559.6,235.6 L560.5,236.0 L561.4,236.4 L562.3,236.9 L563.2,237.3 L564.1,237.7 L565.0,238.1 L565.9,238.6 L566.8,239.0 L567.8,239.4 L568.7,239.8 L569.6,240.2 L570.5,240.7 L571.4,241.1 L572.3,241.5 L573.2,241.9 L574.1,242.3 L575.1,242.8 L576.0,243.2 L576.9,243.6 L577.8,244.0 L578.7,244.4 L579.6,244.8 L580.5,245.3 L581.4,245.7 L582.4,246.1 L583.3,246.5 L584.2,246.9 L585.1,247.4 L586.0,247.8 L586.9,248.2 L587.8,248.7 L588.7,249.1 L589.6,249.6 L590.5,250.0 L591.4,250.4 L592.3,250.9 L593.2,251.3 L594.1,251.8 L595.0,252.2" stroke="#0000ff" stroke-width="2" fill="none" clip-path="url(#cR)"/>
<path d="M345.8,29.0 L346.1,30.0 L346.3,31.0 L346.6,31.9 L346.9,32.9 L347.1,33.9 L347.4,34.9 L347.6,35.9 L347.9,36.9 L348.1,37.8 L348.3,38.8 L348.6,39.8 L348.8,40.8 L349.0,41.8 L349.3,42.8 L349.5,43.8 L349.7,44.8 L349.9,45.7 L350.2,46.7 L350.4,47.7 L350.6,48.7 L350.8,49.7 L351.0,50.7 L351.2,51.7 L351.4,52.7 L351.6,53.7 L351.8,54.7 L352.0,55.7 L352.2,56.7 L352.3,57.6 L352.5,58.6 L352.7,59.6 L352.9,60.6 L353.0,61.6 L353.2,62.6 L353.4,63.6 L353.5,64.6 L353.7,65.6 L353.8,66.6 L354.0,67.6 L354.1,68.6 L354.3,69.6 L354.4,70.6 L354.6,71.6 L354.7,72.6 L354.8,73.6 L355.0,74.6 L355.1,75.6 L355.2,76.6 L355.3,77.6 L355.5,78.6 L355.6,79.6 L355.7,80.6 L355.8,81.6 L355.9,82.7 L356.1,83.7 L356.2,84.7 L356.3,85.7 L356.4,86.7 L356.5,87.7 L356.6,88.7 L356.7,89.7 L356.8,90.7 L356.9,91.7 L357.0,92.7 L357.1,93.7 L357.2,94.7 L357.3,95.7 L357.4,96.7 L357.5,97.7 L357.6,98.8 L357.7,99.8 L357.8,100.8 L357.9,101.8 L358.0,102.8 L358.1,103.8 L358.2,104.8 L358.3,105.8 L358.4,106.8 L358.5,107.8 L358.5,108.8 L358.6,109.8 L358.7,110.8 L358.8,111.9 L358.9,112.9 L359.0,113.9 L359.1,114.9 L359.2,115.9 L359.3,116.9 L359.4,117.9 L359.5,118.9 L359.6,119.9 L359.7,120.9 L359.8,121.9 L359.8,122.9 L359.9,124.0 L360.1,125.0 L360.2,126.0 L360.3,127.0 L360.4,128.0 L360.6,129.0 L360.7,130.0 L360.8,131.0 L361.0,132.0 L361.1,133.0 L361.2,134.0 L361.4,135.0 L361.5,136.0 L362.1,136.8 L362.7,137.6 L363.3,138.4 L363.8,139.2 L364.4,140.0 L365.0,140.8 L365.6,141.6 L366.2,142.4 L366.8,143.2 L367.4,144.0 L368.0,144.8 L368.6,145.6 L369.3,146.3 L370.0,146.9 L370.8,147.6 L371.5,148.3 L372.2,149.0 L373.0,149.7 L373.7,150.3 L374.4,151.0 L375.2,151.7 L375.9,152.4 L376.6,153.0 L377.4,153.7 L378.1,154.4 L378.9,155.0 L379.6,155.7 L380.4,156.4 L381.1,157.0 L381.8,157.7 L382.6,158.4 L383.3,159.0 L384.1,159.7 L384.9,160.3 L385.6,161.0 L386.4,161.6 L387.1,162.3 L387.9,162.9 L388.6,163.6 L389.4,164.2 L390.2,164.9 L390.9,165.5 L391.7,166.2 L392.5,166.8 L393.2,167.5 L394.0,168.1 L394.8,168.7 L395.6,169.4 L396.3,170.0 L397.1,170.6 L397.9,171.3 L398.7,171.9 L399.4,172.5 L400.2,173.2 L401.0,173.8 L401.8,174.4 L402.6,175.0 L403.4,175.6 L404.1,176.3 L404.9,176.9 L405.7,177.5 L406.5,178.1 L407.3,178.7 L408.1,179.4 L408.9,180.0 L409.7,180.6 L410.5,181.2 L411.3,181.8 L412.1,182.4 L412.9,183.0 L413.7,183.6 L414.5,184.2 L415.3,184.8 L416.1,185.4 L416.9,186.0 L417.7,186.6 L418.5,187.2 L419.3,187.8 L420.1,188.4 L420.9,189.0 L421.7,189.6 L422.5,190.2 L423.4,190.8 L424.2,191.4 L425.0,192.0 L425.8,192.5 L426.6,193.1 L427.4,193.7 L428.3,194.3 L429.1,194.9 L429.9,195.5 L430.7,196.0 L431.5,196.6 L432.4,197.2 L433.2,197.8 L434.0,198.3 L434.8,198.9 L435.7,199.5 L436.5,200.1 L437.3,200.6 L438.2,201.2 L439.0,201.8 L439.8,202.3 L440.7,202.9 L441.5,203.5 L442.3,204.0 L443.2,204.6 L444.0,205.1 L444.8,205.7 L445.7,206.3 L446.5,206.8 L447.4,207.4 L448.2,207.9 L449.0,208.5 L449.9,209.0 L450.7,209.6 L451.6,210.1 L452.4,210.7 L453.3,211.2 L454.1,211.8 L454.9,212.3 L455.8,212.9 L456.6,213.4 L457.5,214.0 L458.3,214.5 L459.2,215.0 L460.0,215.6 L460.9,216.1 L461.8,216.7 L462.6,217.2 L463.5,217.7 L464.3,218.3 L465.2,218.8 L466.0,219.3 L466.9,219.9 L467.7,220.4 L468.6,220.9 L469.5,221.4 L470.3,222.0 L471.2,222.5 L472.0,223.0 L472.9,223.6 L473.8,224.1 L474.6,224.6 L475.5,225.1 L476.4,225.6 L477.2,226.2 L478.1,226.7 L478.9,227.2 L479.8,227.7 L480.7,228.2 L481.5,228.8 L482.4,229.3 L483.3,229.8 L484.2,230.3 L485.0,230.8 L485.9,231.3 L486.8,231.8 L487.6,232.3 L488.5,232.8 L489.4,233.4 L490.3,233.9 L491.1,234.4 L492.0,234.9 L492.9,235.4 L493.7,235.9 L494.6,236.4 L495.5,236.9 L496.4,237.4 L497.2,237.9 L498.1,238.4 L499.0,238.9 L499.9,239.4 L500.8,239.9 L501.6,240.4 L502.5,240.9 L503.4,241.4 L504.3,241.8 L505.1,242.3 L506.0,242.8 L506.9,243.3 L507.8,243.8 L508.7,244.3 L509.5,244.8 L510.4,245.3 L511.3,245.8 L512.2,246.2 L513.1,246.7 L514.0,247.2 L514.8,247.7 L515.7,248.2 L516.6,248.7 L517.5,249.1 L518.4,249.6 L519.2,250.1 L520.1,250.6 L521.0,251.1 L521.9,251.5 L522.8,252.0 L523.7,252.5 L524.6,253.0 L525.4,253.4 L526.3,253.9 L527.2,254.4 L528.1,254.9 L529.0,255.3 L529.9,255.8 L530.8,256.3 L531.6,256.8 L532.5,257.2 L533.4,257.7 L534.3,258.2 L535.2,258.6 L536.1,259.1 L537.0,259.6 L537.8,260.0 L538.7,260.5 L539.6,261.0 L540.5,261.4 L541.4,261.9 L542.3,262.4 L543.2,262.8 L544.1,263.3 L544.9,263.7 L545.8,264.2 L546.7,264.7 L547.6,265.1 L548.5,265.6 L549.4,266.0 L550.3,266.5 L551.2,266.9 L552.0,267.4 L552.9,267.9 L553.8,268.3 L554.7,268.8 L555.6,269.2 L556.5,269.7 L557.4,270.1 L558.3,270.6 L559.1,271.0 L560.0,271.5 L560.9,272.0 L561.8,272.5 L562.6,272.9 L563.5,273.4 L564.4,273.9 L565.3,274.4 L566.1,274.9 L567.0,275.4 L567.9,275.9 L568.8,276.3 L569.6,276.8 L570.5,277.3" stroke="#0000ff" stroke-width="2" fill="none" stroke-dasharray="4.4 2.6" stroke-dashoffset="4.79" clip-path="url(#cR)"/>
<path d="M337.7,219.8 L338.7,219.8 L339.7,219.8 L340.7,219.8 L341.7,219.8 L342.8,219.8 L343.8,219.8 L344.8,219.8 L345.8,219.8 L346.8,219.8 L347.8,219.8 L348.8,219.8 L349.8,219.8 L350.8,219.8 L351.9,219.8 L352.9,219.8 L353.9,219.8 L354.9,219.8 L355.9,219.8 L356.9,219.8 L357.9,219.8 L358.9,219.8 L359.9,219.8 L361.0,219.8 L362.0,219.8 L363.0,219.8 L364.0,219.8 L365.0,219.8 L366.1,219.7 L367.1,219.7 L368.1,219.6 L369.2,219.6 L370.2,219.6 L371.3,219.6 L372.3,219.6 L373.4,219.6 L374.4,219.7 L375.4,219.7 L376.4,219.8 L377.5,219.9 L378.5,219.9 L379.6,220.0 L380.6,220.1 L381.6,220.2 L382.7,220.3 L383.7,220.4 L384.7,220.6 L385.7,220.7 L386.8,220.9 L387.8,221.1 L388.8,221.3 L389.8,221.5 L390.8,221.7 L391.7,222.0 L392.7,222.2 L393.7,222.5 L394.6,222.8 L395.6,223.1 L396.6,223.5 L397.5,223.8 L398.4,224.1 L399.4,224.5 L400.3,224.9 L401.2,225.3 L402.1,225.7 L403.0,226.2 L403.9,226.6 L404.7,227.1 L405.6,227.6 L406.4,228.0 L407.3,228.6 L408.1,229.1 L409.0,229.6 L409.8,230.2 L410.6,230.8 L411.4,231.4 L412.1,232.0 L412.9,232.6 L413.7,233.2 L414.4,233.9 L415.2,234.6 L415.9,235.2 L416.6,235.9 L417.3,236.6 L418.0,237.4 L418.7,238.1 L419.4,238.8 L420.1,239.6 L420.8,240.4 L421.4,241.1 L422.1,241.9 L422.7,242.7 L423.4,243.5 L424.0,244.3 L424.7,245.1 L425.3,245.9 L425.9,246.7 L426.6,247.6 L427.2,248.4 L427.8,249.2 L428.5,250.0 L429.1,250.9 L429.7,251.7 L430.3,252.5 L431.0,253.3 L431.6,254.2 L432.2,255.0 L432.9,255.8 L433.5,256.6 L434.1,257.4 L434.8,258.2 L435.4,259.0 L436.1,259.8 L436.7,260.6 L437.4,261.4 L438.1,262.1 L438.8,262.9 L439.5,263.6 L440.1,264.4 L440.9,265.1 L441.6,265.8 L442.3,266.5 L443.0,267.2 L443.8,267.8 L444.5,268.5" stroke="#0000ff" stroke-width="2" fill="none" stroke-dasharray="4.1 4.15 1.6 4.15" stroke-dashoffset="10.84" clip-path="url(#cR)"/>
<path d="M337.70,219.80h3.2" stroke="#0000ff" stroke-width="2" clip-path="url(#cR)"/>
<path d="M447.4,55.1V277" stroke="#000" stroke-width="2.7"/>
<path d="M421.9,62H433.5" stroke="#000" stroke-width="1.9"/>
<path d="M433,60L445,61.3L445,62.7L433,64Z" fill="#000"/>
<path d="M29.9,30.45H289.2M29.9,277.25H289.2M30.5,29.8V277.8M337.45,29.8V277.8M336.8,30.45H595.8M336.8,277.25H595.8" stroke="#000" stroke-width="1.25" fill="none"/>
<path d="M288.4,29.8V277.8" stroke="#1a1a1a" stroke-width="1.6" fill="none"/>
<path d="M595,29.8V277.8" stroke="#2a2a2a" stroke-width="1.8" fill="none"/>
<path d="M30.5,276.50h4.3 M30.5,272.50h4.3 M30.5,267.50h4.3 M30.5,264.50h4.3 M30.5,261.50h4.3 M30.5,258.50h7.8 M30.5,239.50h4.3 M30.5,228.50h4.3 M30.5,221.50h4.3 M30.5,215.50h4.3 M30.5,210.50h4.3 M30.5,206.50h4.3 M30.5,202.50h4.3 M30.5,199.50h4.3 M30.5,196.50h7.8 M30.5,178.50h4.3 M30.5,167.50h4.3 M30.5,159.50h4.3 M30.5,153.50h4.3 M30.5,148.50h4.3 M30.5,144.50h4.3 M30.5,140.50h4.3 M30.5,137.50h4.3 M30.5,134.50h7.8 M30.5,116.50h4.3 M30.5,105.50h4.3 M30.5,97.50h4.3 M30.5,91.50h4.3 M30.5,86.50h4.3 M30.5,82.50h4.3 M30.5,79.50h4.3 M30.5,76.50h4.3 M30.5,73.50h7.8 M30.5,54.50h4.3 M30.5,43.50h4.3 M30.5,36.50h4.3 M33.50,277.3v-7 M39.50,277.3v-3.6 M45.50,277.3v-3.6 M50.50,277.3v-3.6 M56.50,277.3v-3.6 M61.50,277.3v-7 M67.50,277.3v-3.6 M73.50,277.3v-3.6 M78.50,277.3v-3.6 M84.50,277.3v-3.6 M90.50,277.3v-7 M95.50,277.3v-3.6 M101.50,277.3v-3.6 M106.50,277.3v-3.6 M112.50,277.3v-3.6 M118.50,277.3v-7 M123.50,277.3v-3.6 M129.50,277.3v-3.6 M134.50,277.3v-3.6 M140.50,277.3v-3.6 M146.50,277.3v-7 M151.50,277.3v-3.6 M157.50,277.3v-3.6 M163.50,277.3v-3.6 M168.50,277.3v-3.6 M174.50,277.3v-7 M179.50,277.3v-3.6 M185.50,277.3v-3.6 M191.50,277.3v-3.6 M196.50,277.3v-3.6 M202.50,277.3v-7 M208.50,277.3v-3.6 M213.50,277.3v-3.6 M219.50,277.3v-3.6 M224.50,277.3v-3.6 M230.50,277.3v-7 M236.50,277.3v-3.6 M241.50,277.3v-3.6 M247.50,277.3v-3.6 M253.50,277.3v-3.6 M258.50,277.3v-7 M264.50,277.3v-3.6 M269.50,277.3v-3.6 M275.50,277.3v-3.6 M281.50,277.3v-3.6 M286.50,277.3v-7 M337.6,276.50h4.3 M337.6,272.50h4.3 M337.6,267.50h4.3 M337.6,264.50h4.3 M337.6,261.50h4.3 M337.6,258.50h7.8 M337.6,239.50h4.3 M337.6,228.50h4.3 M337.6,221.50h4.3 M337.6,215.50h4.3 M337.6,210.50h4.3 M337.6,206.50h4.3 M337.6,202.50h4.3 M337.6,199.50h4.3 M337.6,196.50h7.8 M337.6,178.50h4.3 M337.6,167.50h4.3 M337.6,159.50h4.3 M337.6,153.50h4.3 M337.6,148.50h4.3 M337.6,144.50h4.3 M337.6,140.50h4.3 M337.6,137.50h4.3 M337.6,134.50h7.8 M337.6,116.50h4.3 M337.6,105.50h4.3 M337.6,97.50h4.3 M337.6,91.50h4.3 M337.6,86.50h4.3 M337.6,82.50h4.3 M337.6,79.50h4.3 M337.6,76.50h4.3 M337.6,73.50h7.8 M337.6,54.50h4.3 M337.6,43.50h4.3 M337.6,36.50h4.3 M340.50,277.3v-7 M346.50,277.3v-3.6 M351.50,277.3v-3.6 M357.50,277.3v-3.6 M363.50,277.3v-3.6 M368.50,277.3v-7 M374.50,277.3v-3.6 M379.50,277.3v-3.6 M385.50,277.3v-3.6 M391.50,277.3v-3.6 M396.50,277.3v-7 M402.50,277.3v-3.6 M408.50,277.3v-3.6 M413.50,277.3v-3.6 M419.50,277.3v-3.6 M424.50,277.3v-7 M430.50,277.3v-3.6 M436.50,277.3v-3.6 M441.50,277.3v-3.6 M447.50,277.3v-3.6 M453.50,277.3v-7 M458.50,277.3v-3.6 M464.50,277.3v-3.6 M469.50,277.3v-3.6 M475.50,277.3v-3.6 M481.50,277.3v-7 M486.50,277.3v-3.6 M492.50,277.3v-3.6 M498.50,277.3v-3.6 M503.50,277.3v-3.6 M509.50,277.3v-7 M514.50,277.3v-3.6 M520.50,277.3v-3.6 M526.50,277.3v-3.6 M531.50,277.3v-3.6 M537.50,277.3v-7 M542.50,277.3v-3.6 M548.50,277.3v-3.6 M554.50,277.3v-3.6 M559.50,277.3v-3.6 M565.50,277.3v-7 M571.50,277.3v-3.6 M576.50,277.3v-3.6 M582.50,277.3v-3.6 M587.50,277.3v-3.6 M593.50,277.3v-7" stroke="#000" stroke-width="1" fill="none"/>
<text x="33.00" y="291.00" text-anchor="middle" style="font-family:'Liberation Sans',sans-serif;font-weight:bold;font-size:12px;fill:#000">100</text>
<text x="61.11" y="291.00" text-anchor="middle" style="font-family:'Liberation Sans',sans-serif;font-weight:bold;font-size:12px;fill:#000">200</text>
<text x="89.22" y="291.00" text-anchor="middle" style="font-family:'Liberation Sans',sans-serif;font-weight:bold;font-size:12px;fill:#000">300</text>
<text x="117.33" y="291.00" text-anchor="middle" style="font-family:'Liberation Sans',sans-serif;font-weight:bold;font-size:12px;fill:#000">400</text>
<text x="145.44" y="291.00" text-anchor="middle" style="font-family:'Liberation Sans',sans-serif;font-weight:bold;font-size:12px;fill:#000">500</text>
<text x="173.55" y="291.00" text-anchor="middle" style="font-family:'Liberation Sans',sans-serif;font-weight:bold;font-size:12px;fill:#000">600</text>
<text x="201.66" y="291.00" text-anchor="middle" style="font-family:'Liberation Sans',sans-serif;font-weight:bold;font-size:12px;fill:#000">700</text>
<text x="229.77" y="291.00" text-anchor="middle" style="font-family:'Liberation Sans',sans-serif;font-weight:bold;font-size:12px;fill:#000">800</text>
<text x="257.88" y="291.00" text-anchor="middle" style="font-family:'Liberation Sans',sans-serif;font-weight:bold;font-size:12px;fill:#000">900</text>
<text x="285.99" y="291.00" text-anchor="middle" style="font-family:'Liberation Sans',sans-serif;font-weight:bold;font-size:12px;fill:#000">1000</text>
<text x="19.65" y="262.80" text-anchor="middle" style="font-family:'Liberation Sans',sans-serif;font-weight:bold;font-size:12px;fill:#000">10</text>
<text x="13.65" y="202.30" text-anchor="middle" style="font-family:'Liberation Sans',sans-serif;font-weight:bold;font-size:12px;fill:#000">10</text>
<text x="20.70" y="196.00" style="font-family:'Liberation Sans',sans-serif;font-weight:bold;font-size:7.5px;fill:#000">2</text>
<text x="13.65" y="141.30" text-anchor="middle" style="font-family:'Liberation Sans',sans-serif;font-weight:bold;font-size:12px;fill:#000">10</text>
<text x="20.70" y="134.30" style="font-family:'Liberation Sans',sans-serif;font-weight:bold;font-size:7.5px;fill:#000">3</text>
<text x="13.65" y="78.90" text-anchor="middle" style="font-family:'Liberation Sans',sans-serif;font-weight:bold;font-size:12px;fill:#000">10</text>
<text x="20.70" y="72.60" style="font-family:'Liberation Sans',sans-serif;font-weight:bold;font-size:7.5px;fill:#000">4</text>
<text x="339.80" y="291.00" text-anchor="middle" style="font-family:'Liberation Sans',sans-serif;font-weight:bold;font-size:12px;fill:#000">100</text>
<text x="367.91" y="291.00" text-anchor="middle" style="font-family:'Liberation Sans',sans-serif;font-weight:bold;font-size:12px;fill:#000">200</text>
<text x="396.02" y="291.00" text-anchor="middle" style="font-family:'Liberation Sans',sans-serif;font-weight:bold;font-size:12px;fill:#000">300</text>
<text x="424.13" y="291.00" text-anchor="middle" style="font-family:'Liberation Sans',sans-serif;font-weight:bold;font-size:12px;fill:#000">400</text>
<text x="452.24" y="291.00" text-anchor="middle" style="font-family:'Liberation Sans',sans-serif;font-weight:bold;font-size:12px;fill:#000">500</text>
<text x="480.35" y="291.00" text-anchor="middle" style="font-family:'Liberation Sans',sans-serif;font-weight:bold;font-size:12px;fill:#000">600</text>
<text x="508.46" y="291.00" text-anchor="middle" style="font-family:'Liberation Sans',sans-serif;font-weight:bold;font-size:12px;fill:#000">700</text>
<text x="536.57" y="291.00" text-anchor="middle" style="font-family:'Liberation Sans',sans-serif;font-weight:bold;font-size:12px;fill:#000">800</text>
<text x="564.68" y="291.00" text-anchor="middle" style="font-family:'Liberation Sans',sans-serif;font-weight:bold;font-size:12px;fill:#000">900</text>
<text x="592.79" y="291.00" text-anchor="middle" style="font-family:'Liberation Sans',sans-serif;font-weight:bold;font-size:12px;fill:#000">1000</text>
<text x="327.95" y="262.80" text-anchor="middle" style="font-family:'Liberation Sans',sans-serif;font-weight:bold;font-size:12px;fill:#000">10</text>
<text x="321.95" y="202.30" text-anchor="middle" style="font-family:'Liberation Sans',sans-serif;font-weight:bold;font-size:12px;fill:#000">10</text>
<text x="329.00" y="196.00" style="font-family:'Liberation Sans',sans-serif;font-weight:bold;font-size:7.5px;fill:#000">2</text>
<text x="321.95" y="141.30" text-anchor="middle" style="font-family:'Liberation Sans',sans-serif;font-weight:bold;font-size:12px;fill:#000">10</text>
<text x="329.00" y="134.30" style="font-family:'Liberation Sans',sans-serif;font-weight:bold;font-size:7.5px;fill:#000">3</text>
<text x="321.95" y="78.90" text-anchor="middle" style="font-family:'Liberation Sans',sans-serif;font-weight:bold;font-size:12px;fill:#000">10</text>
<text x="329.00" y="72.60" style="font-family:'Liberation Sans',sans-serif;font-weight:bold;font-size:7.5px;fill:#000">4</text>
<text x="212.70" y="17.30" style="font-family:'Liberation Sans',sans-serif;font-weight:bold;font-size:15.4px;fill:#000">Cross sections pp</text>
<path d="M353.8,13.3H367.3M363.3,9.600000000000001L367.6,13.3L363.3,17.0" stroke="#000" stroke-width="1.2" fill="none" stroke-linejoin="miter"/>
<text x="373.30" y="17.20" style="font-family:'Liberation Sans',sans-serif;font-weight:bold;font-size:15.4px;fill:#000">H</text>
<text x="383.90" y="10.40" style="font-family:'Liberation Sans',sans-serif;font-weight:normal;font-size:9.5px;fill:#000">±</text>
<text x="394.30" y="17.20" style="font-family:'Liberation Sans',sans-serif;font-weight:bold;font-size:15.4px;fill:#000">X</text>
<text transform="translate(13.00,64) rotate(-90)" style="font-family:'Liberation Serif',serif;font-weight:normal;font-size:15px">σ</text>
<text transform="translate(11.90,51.4) rotate(-90)" style="font-family:'Liberation Sans',sans-serif;font-weight:bold;font-size:13px">[fb]</text>
<text transform="translate(321.00,64) rotate(-90)" style="font-family:'Liberation Serif',serif;font-weight:normal;font-size:15px">σ</text>
<text transform="translate(319.90,51.4) rotate(-90)" style="font-family:'Liberation Sans',sans-serif;font-weight:bold;font-size:13px">[fb]</text>
<text x="236.20" y="306.60" style="font-family:'Liberation Sans',sans-serif;font-weight:bold;font-size:13.7px;fill:#000">M</text>
<text x="247.60" y="310.50" style="font-family:'Liberation Sans',sans-serif;font-weight:bold;font-size:8.5px;fill:#000">H</text>
<text x="253.30" y="307.20" style="font-family:'Liberation Sans',sans-serif;font-weight:normal;font-size:6.5px;fill:#000">±</text>
<text x="261.35" y="306.50" style="font-family:'Liberation Sans',sans-serif;font-weight:bold;font-size:13.8px;fill:#000">[GeV]</text>
<text x="544.10" y="306.60" style="font-family:'Liberation Sans',sans-serif;font-weight:bold;font-size:13.7px;fill:#000">M</text>
<text x="555.50" y="310.50" style="font-family:'Liberation Sans',sans-serif;font-weight:bold;font-size:8.5px;fill:#000">H</text>
<text x="561.20" y="307.20" style="font-family:'Liberation Sans',sans-serif;font-weight:normal;font-size:6.5px;fill:#000">±</text>
<text x="569.25" y="306.50" style="font-family:'Liberation Sans',sans-serif;font-weight:bold;font-size:13.8px;fill:#000">[GeV]</text>
<text x="143.95" y="43.80" style="font-family:'Liberation Sans',sans-serif;font-weight:bold;font-size:12.5px;fill:#000">Model I</text>
<text x="448.95" y="43.80" style="font-family:'Liberation Sans',sans-serif;font-weight:bold;font-size:12.5px;fill:#000">Model II</text>
<text x="178.75" y="67.20" style="font-family:'Liberation Sans',sans-serif;font-weight:bold;font-size:12.5px;fill:#ff0000">red:</text>
<text x="178.40" y="78.80" style="font-family:'Liberation Sans',sans-serif;font-weight:bold;font-size:12.5px;fill:#00ff00">green:</text>
<text x="179.25" y="97.10" style="font-family:'Liberation Sans',sans-serif;font-weight:bold;font-size:12.5px;fill:#0000ff">blue:</text>
<text x="230.40" y="65.80" style="font-family:'Liberation Sans',sans-serif;font-weight:bold;font-size:12.5px;fill:#ff0000">tan</text>
<text transform="translate(253.75,65.80) scale(1.22,0.96)" style="font-family:'Liberation Serif',serif;font-weight:normal;font-size:13px;fill:#ff0000">β</text>
<text x="264.20" y="65.80" style="font-family:'Liberation Sans',sans-serif;font-weight:bold;font-size:12.5px;fill:#ff0000">=</text>
<text x="275.15" y="65.80" style="font-family:'Liberation Sans',sans-serif;font-weight:bold;font-size:12.5px;fill:#ff0000">1</text>
<text x="229.80" y="81.00" style="font-family:'Liberation Sans',sans-serif;font-weight:bold;font-size:12.5px;fill:#00ff00">tan</text>
<text transform="translate(253.15,81.00) scale(1.22,0.96)" style="font-family:'Liberation Serif',serif;font-weight:normal;font-size:13px;fill:#00ff00">β</text>
<text x="263.30" y="81.00" style="font-family:'Liberation Sans',sans-serif;font-weight:bold;font-size:12.5px;fill:#00ff00">=</text>
<text x="275.05" y="81.00" style="font-family:'Liberation Sans',sans-serif;font-weight:bold;font-size:12.5px;fill:#00ff00">3</text>
<text x="225.80" y="96.90" style="font-family:'Liberation Sans',sans-serif;font-weight:bold;font-size:12.5px;fill:#0000ff">tan</text>
<text transform="translate(248.75,96.90) scale(1.22,0.96)" style="font-family:'Liberation Serif',serif;font-weight:normal;font-size:13px;fill:#0000ff">β</text>
<text x="259.00" y="96.90" style="font-family:'Liberation Sans',sans-serif;font-weight:bold;font-size:12.5px;fill:#0000ff">=</text>
<text x="270.15" y="96.90" style="font-family:'Liberation Sans',sans-serif;font-weight:bold;font-size:12.5px;fill:#0000ff">30</text>
<text x="485.45" y="67.20" style="font-family:'Liberation Sans',sans-serif;font-weight:bold;font-size:12.5px;fill:#ff0000">red:</text>
<text x="485.10" y="78.80" style="font-family:'Liberation Sans',sans-serif;font-weight:bold;font-size:12.5px;fill:#00ff00">green:</text>
<text x="485.95" y="97.10" style="font-family:'Liberation Sans',sans-serif;font-weight:bold;font-size:12.5px;fill:#0000ff">blue:</text>
<text x="537.10" y="65.80" style="font-family:'Liberation Sans',sans-serif;font-weight:bold;font-size:12.5px;fill:#ff0000">tan</text>
<text transform="translate(560.45,65.80) scale(1.22,0.96)" style="font-family:'Liberation Serif',serif;font-weight:normal;font-size:13px;fill:#ff0000">β</text>
<text x="570.90" y="65.80" style="font-family:'Liberation Sans',sans-serif;font-weight:bold;font-size:12.5px;fill:#ff0000">=</text>
<text x="581.85" y="65.80" style="font-family:'Liberation Sans',sans-serif;font-weight:bold;font-size:12.5px;fill:#ff0000">1</text>
<text x="536.50" y="81.00" style="font-family:'Liberation Sans',sans-serif;font-weight:bold;font-size:12.5px;fill:#00ff00">tan</text>
<text transform="translate(559.85,81.00) scale(1.22,0.96)" style="font-family:'Liberation Serif',serif;font-weight:normal;font-size:13px;fill:#00ff00">β</text>
<text x="570.00" y="81.00" style="font-family:'Liberation Sans',sans-serif;font-weight:bold;font-size:12.5px;fill:#00ff00">=</text>
<text x="581.75" y="81.00" style="font-family:'Liberation Sans',sans-serif;font-weight:bold;font-size:12.5px;fill:#00ff00">3</text>
<text x="532.50" y="96.90" style="font-family:'Liberation Sans',sans-serif;font-weight:bold;font-size:12.5px;fill:#0000ff">tan</text>
<text transform="translate(555.45,96.90) scale(1.22,0.96)" style="font-family:'Liberation Serif',serif;font-weight:normal;font-size:13px;fill:#0000ff">β</text>
<text x="565.70" y="96.90" style="font-family:'Liberation Sans',sans-serif;font-weight:bold;font-size:12.5px;fill:#0000ff">=</text>
<text x="576.85" y="96.90" style="font-family:'Liberation Sans',sans-serif;font-weight:bold;font-size:12.5px;fill:#0000ff">30</text>
<text x="364.15" y="66.50" style="font-family:'Liberation Sans',sans-serif;font-weight:bold;font-size:12.5px;fill:#000">Excluded</text>
<text x="367.65" y="79.50" style="font-family:'Liberation Sans',sans-serif;font-weight:bold;font-size:12.5px;fill:#000">b</text>
<path d="M381.7,76.8H392.8M389.1,74.2L393.1,76.8L389.1,79.39999999999999" stroke="#000" stroke-width="1.1" fill="none" stroke-linejoin="miter"/>
<text x="396.70" y="79.50" style="font-family:'Liberation Sans',sans-serif;font-weight:bold;font-size:12.5px;fill:#000">s</text>
<text transform="translate(409.2,79.6) scale(1.18,1)" style="font-family:'Liberation Serif',serif;font-weight:normal;font-size:13px;fill:#000">γ</text>
</svg>
</body></html>
